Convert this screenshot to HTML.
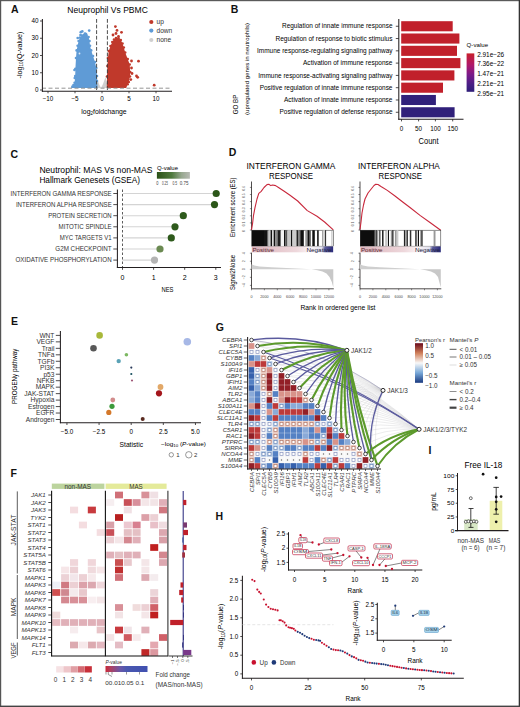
<!DOCTYPE html>
<html><head><meta charset="utf-8"><style>
html,body{margin:0;padding:0;background:#fff;}
body{width:520px;height:707px;overflow:hidden;}
svg{display:block;font-family:"Liberation Sans", sans-serif;}
</style></head><body>
<svg width="520" height="707" viewBox="0 0 520 707">
<rect x="0" y="0" width="520" height="707" fill="#fff"/>
<rect x="0.00" y="0.00" width="520.00" height="1.20" fill="#5a5a5a"/>
<rect x="0.00" y="0.00" width="1.20" height="707.00" fill="#555"/>
<rect x="518.70" y="0.00" width="1.30" height="707.00" fill="#333"/>
<rect x="0.00" y="705.60" width="520.00" height="1.40" fill="#444"/>
<text x="11.00" y="13.40" font-size="10.5" font-weight="bold" fill="#111">A</text>
<text x="67.30" y="13.30" font-size="8.5" textLength="80.50" lengthAdjust="spacingAndGlyphs">Neuprophil Vs PBMC</text>
<path d="M95.50,88.00 L97.00,78.00 L99.00,84.00 L101.00,88.00 L103.00,84.00 L105.50,77.00 L108.00,88.00 Z" fill="#cfcfcf"/>
<path d="M70.80,88.00 L73.50,85.00 L74.60,82.70 L75.20,76.00 L75.40,68.80 L76.00,58.00 L76.60,50.40 L77.60,45.80 L78.60,41.00 L80.00,37.50 L82.00,35.50 L84.00,35.00 L86.50,35.20 L88.60,37.00 L89.50,41.00 L90.00,45.80 L91.20,50.40 L93.00,56.00 L95.00,62.00 L96.30,68.00 L97.00,76.00 L97.00,81.00 L97.70,88.00 Z" fill="#5f9bd6"/>
<circle cx="73.50" cy="85.00" r="1.30" fill="#5f9bd6"/>
<circle cx="74.60" cy="82.70" r="1.30" fill="#5f9bd6"/>
<circle cx="75.20" cy="76.00" r="1.30" fill="#5f9bd6"/>
<circle cx="75.40" cy="68.80" r="1.30" fill="#5f9bd6"/>
<circle cx="76.00" cy="58.00" r="1.30" fill="#5f9bd6"/>
<circle cx="76.60" cy="50.40" r="1.30" fill="#5f9bd6"/>
<circle cx="77.60" cy="45.80" r="1.30" fill="#5f9bd6"/>
<circle cx="78.60" cy="41.00" r="1.30" fill="#5f9bd6"/>
<circle cx="80.00" cy="37.50" r="1.30" fill="#5f9bd6"/>
<circle cx="82.00" cy="35.50" r="1.30" fill="#5f9bd6"/>
<circle cx="84.00" cy="35.00" r="1.30" fill="#5f9bd6"/>
<circle cx="86.50" cy="35.20" r="1.30" fill="#5f9bd6"/>
<circle cx="88.60" cy="37.00" r="1.30" fill="#5f9bd6"/>
<circle cx="89.50" cy="41.00" r="1.30" fill="#5f9bd6"/>
<circle cx="90.00" cy="45.80" r="1.30" fill="#5f9bd6"/>
<circle cx="91.20" cy="50.40" r="1.30" fill="#5f9bd6"/>
<circle cx="93.00" cy="56.00" r="1.30" fill="#5f9bd6"/>
<circle cx="95.00" cy="62.00" r="1.30" fill="#5f9bd6"/>
<circle cx="96.30" cy="68.00" r="1.30" fill="#5f9bd6"/>
<circle cx="97.00" cy="76.00" r="1.30" fill="#5f9bd6"/>
<circle cx="97.00" cy="81.00" r="1.30" fill="#5f9bd6"/>
<circle cx="80.80" cy="32.20" r="1.35" fill="#5f9bd6"/>
<circle cx="82.30" cy="31.40" r="1.35" fill="#5f9bd6"/>
<circle cx="89.20" cy="30.60" r="1.35" fill="#5f9bd6"/>
<circle cx="77.70" cy="38.00" r="1.35" fill="#5f9bd6"/>
<circle cx="84.60" cy="36.50" r="1.35" fill="#5f9bd6"/>
<circle cx="86.00" cy="34.00" r="1.35" fill="#5f9bd6"/>
<circle cx="80.50" cy="35.00" r="1.35" fill="#5f9bd6"/>
<circle cx="74.50" cy="70.00" r="1.35" fill="#5f9bd6"/>
<circle cx="74.80" cy="78.00" r="1.35" fill="#5f9bd6"/>
<circle cx="72.50" cy="86.50" r="1.35" fill="#5f9bd6"/>
<circle cx="85.00" cy="33.50" r="1.35" fill="#5f9bd6"/>
<circle cx="79.50" cy="53.50" r="0.90" fill="#dbe8f6"/>
<path d="M106.80,88.00 L107.00,76.50 L107.40,66.00 L107.90,58.00 L108.80,51.00 L110.50,46.00 L112.30,42.00 L114.00,39.50 L116.00,38.00 L118.50,38.20 L120.80,40.00 L122.50,43.50 L123.80,47.50 L125.20,52.50 L127.70,59.00 L129.70,64.50 L130.20,72.00 L130.00,76.50 L128.80,82.00 L127.70,84.20 L126.20,88.00 Z" fill="#c0392b"/>
<circle cx="107.00" cy="76.50" r="1.30" fill="#c0392b"/>
<circle cx="107.40" cy="66.00" r="1.30" fill="#c0392b"/>
<circle cx="107.90" cy="58.00" r="1.30" fill="#c0392b"/>
<circle cx="108.80" cy="51.00" r="1.30" fill="#c0392b"/>
<circle cx="110.50" cy="46.00" r="1.30" fill="#c0392b"/>
<circle cx="112.30" cy="42.00" r="1.30" fill="#c0392b"/>
<circle cx="114.00" cy="39.50" r="1.30" fill="#c0392b"/>
<circle cx="116.00" cy="38.00" r="1.30" fill="#c0392b"/>
<circle cx="118.50" cy="38.20" r="1.30" fill="#c0392b"/>
<circle cx="120.80" cy="40.00" r="1.30" fill="#c0392b"/>
<circle cx="122.50" cy="43.50" r="1.30" fill="#c0392b"/>
<circle cx="123.80" cy="47.50" r="1.30" fill="#c0392b"/>
<circle cx="125.20" cy="52.50" r="1.30" fill="#c0392b"/>
<circle cx="127.70" cy="59.00" r="1.30" fill="#c0392b"/>
<circle cx="129.70" cy="64.50" r="1.30" fill="#c0392b"/>
<circle cx="130.20" cy="72.00" r="1.30" fill="#c0392b"/>
<circle cx="130.00" cy="76.50" r="1.30" fill="#c0392b"/>
<circle cx="128.80" cy="82.00" r="1.30" fill="#c0392b"/>
<circle cx="127.70" cy="84.20" r="1.30" fill="#c0392b"/>
<circle cx="115.40" cy="26.60" r="1.40" fill="#c0392b"/>
<circle cx="117.00" cy="30.40" r="1.40" fill="#c0392b"/>
<circle cx="121.50" cy="32.30" r="1.40" fill="#c0392b"/>
<circle cx="113.00" cy="35.00" r="1.40" fill="#c0392b"/>
<circle cx="118.50" cy="36.50" r="1.40" fill="#c0392b"/>
<circle cx="131.50" cy="61.00" r="1.40" fill="#c0392b"/>
<circle cx="132.00" cy="73.50" r="1.40" fill="#c0392b"/>
<circle cx="138.50" cy="61.20" r="1.40" fill="#c0392b"/>
<circle cx="137.70" cy="77.30" r="1.40" fill="#c0392b"/>
<circle cx="136.50" cy="76.00" r="1.40" fill="#c0392b"/>
<circle cx="130.80" cy="79.60" r="1.40" fill="#c0392b"/>
<circle cx="154.20" cy="85.20" r="1.40" fill="#c0392b"/>
<circle cx="116.00" cy="33.50" r="1.40" fill="#c0392b"/>
<circle cx="131.50" cy="68.00" r="1.40" fill="#c0392b"/>
<line x1="96.60" y1="19.00" x2="96.60" y2="91.00" stroke="#3a3a3a" stroke-width="0.9" stroke-dasharray="3.8,1.8"/>
<line x1="107.40" y1="19.00" x2="107.40" y2="91.00" stroke="#3a3a3a" stroke-width="0.9" stroke-dasharray="3.8,1.8"/>
<line x1="42.00" y1="88.20" x2="172.00" y2="88.20" stroke="#8a8a8a" stroke-width="0.9" stroke-dasharray="4,2.5"/>
<line x1="42.40" y1="19.00" x2="42.40" y2="91.80" stroke="#231f20" stroke-width="1.05"/>
<line x1="41.90" y1="91.30" x2="172.00" y2="91.30" stroke="#231f20" stroke-width="1.05"/>
<line x1="40.00" y1="90.00" x2="42.00" y2="90.00" stroke="#231f20" stroke-width="0.8"/>
<text x="38.60" y="92.20" font-size="6.3" text-anchor="end">0</text>
<line x1="40.00" y1="72.75" x2="42.00" y2="72.75" stroke="#231f20" stroke-width="0.8"/>
<text x="38.60" y="74.95" font-size="6.3" text-anchor="end">10</text>
<line x1="40.00" y1="55.50" x2="42.00" y2="55.50" stroke="#231f20" stroke-width="0.8"/>
<text x="38.60" y="57.70" font-size="6.3" text-anchor="end">20</text>
<line x1="40.00" y1="38.25" x2="42.00" y2="38.25" stroke="#231f20" stroke-width="0.8"/>
<text x="38.60" y="40.45" font-size="6.3" text-anchor="end">30</text>
<line x1="40.00" y1="21.00" x2="42.00" y2="21.00" stroke="#231f20" stroke-width="0.8"/>
<text x="38.60" y="23.20" font-size="6.3" text-anchor="end">40</text>
<line x1="48.00" y1="91.30" x2="48.00" y2="93.30" stroke="#231f20" stroke-width="0.8"/>
<text x="48.00" y="101.30" font-size="6.3" text-anchor="middle">−10</text>
<line x1="75.00" y1="91.30" x2="75.00" y2="93.30" stroke="#231f20" stroke-width="0.8"/>
<text x="75.00" y="101.30" font-size="6.3" text-anchor="middle">−5</text>
<line x1="102.00" y1="91.30" x2="102.00" y2="93.30" stroke="#231f20" stroke-width="0.8"/>
<text x="102.00" y="101.30" font-size="6.3" text-anchor="middle">0</text>
<line x1="129.00" y1="91.30" x2="129.00" y2="93.30" stroke="#231f20" stroke-width="0.8"/>
<text x="129.00" y="101.30" font-size="6.3" text-anchor="middle">5</text>
<line x1="156.00" y1="91.30" x2="156.00" y2="93.30" stroke="#231f20" stroke-width="0.8"/>
<text x="156.00" y="101.30" font-size="6.3" text-anchor="middle">10</text>
<text x="21.60" y="78.50" font-size="7" textLength="47.00" lengthAdjust="spacingAndGlyphs" transform="rotate(-90 21.60 78.50)">-log<tspan font-size="4.5" dy="1.2">10</tspan><tspan dy="-1.2">(Q-value)</tspan></text>
<text x="81.30" y="113.50" font-size="7.6" textLength="45.30" lengthAdjust="spacingAndGlyphs">log<tspan font-size="5" dy="1.4">2</tspan><tspan dy="-1.4">foldchange</tspan></text>
<circle cx="151.30" cy="22.00" r="2.10" fill="#c0392b"/>
<text x="156.50" y="24.30" font-size="6.6" fill="#333">up</text>
<circle cx="151.30" cy="30.60" r="2.10" fill="#5f9bd6"/>
<text x="156.50" y="32.90" font-size="6.6" fill="#333">down</text>
<circle cx="151.30" cy="40.00" r="2.10" fill="#cfcfcf"/>
<text x="156.50" y="42.30" font-size="6.6" fill="#333">none</text>
<text x="230.70" y="13.40" font-size="10.5" font-weight="bold" fill="#111">B</text>
<text x="392.50" y="28.45" font-size="6.3" text-anchor="end" textLength="110.50" lengthAdjust="spacingAndGlyphs">Regulation of innate immune response</text>
<line x1="395.80" y1="26.25" x2="398.80" y2="26.25" stroke="#231f20" stroke-width="0.8"/>
<rect x="401.20" y="21.20" width="51.50" height="10.10" fill="#c1202b"/>
<text x="392.50" y="40.74" font-size="6.3" text-anchor="end" textLength="117.00" lengthAdjust="spacingAndGlyphs">Regulation of response to biotic stimulus</text>
<line x1="395.80" y1="38.54" x2="398.80" y2="38.54" stroke="#231f20" stroke-width="0.8"/>
<rect x="401.20" y="33.49" width="58.20" height="10.10" fill="#c1202b"/>
<text x="392.50" y="53.03" font-size="6.3" text-anchor="end" textLength="135.50" lengthAdjust="spacingAndGlyphs">Immune response-regulating signaling pathway</text>
<line x1="395.80" y1="50.83" x2="398.80" y2="50.83" stroke="#231f20" stroke-width="0.8"/>
<rect x="401.20" y="45.78" width="55.80" height="10.10" fill="#c1202b"/>
<text x="392.50" y="65.32" font-size="6.3" text-anchor="end" textLength="89.50" lengthAdjust="spacingAndGlyphs">Activation of immune response</text>
<line x1="395.80" y1="63.12" x2="398.80" y2="63.12" stroke="#231f20" stroke-width="0.8"/>
<rect x="401.20" y="58.07" width="59.20" height="10.10" fill="#c1202b"/>
<text x="392.50" y="77.61" font-size="6.3" text-anchor="end" textLength="134.20" lengthAdjust="spacingAndGlyphs">Immune response-activating signaling pathway</text>
<line x1="395.80" y1="75.41" x2="398.80" y2="75.41" stroke="#231f20" stroke-width="0.8"/>
<rect x="401.20" y="70.36" width="53.20" height="10.10" fill="#c1202b"/>
<text x="392.50" y="89.90" font-size="6.3" text-anchor="end" textLength="132.80" lengthAdjust="spacingAndGlyphs">Positive regulation of innate immune response</text>
<line x1="395.80" y1="87.70" x2="398.80" y2="87.70" stroke="#231f20" stroke-width="0.8"/>
<rect x="401.20" y="82.65" width="41.80" height="10.10" fill="#c1202b"/>
<text x="392.50" y="102.19" font-size="6.3" text-anchor="end" textLength="108.50" lengthAdjust="spacingAndGlyphs">Activation of innate immune response</text>
<line x1="395.80" y1="99.99" x2="398.80" y2="99.99" stroke="#231f20" stroke-width="0.8"/>
<rect x="401.20" y="94.94" width="34.70" height="10.10" fill="#30207a"/>
<text x="392.50" y="114.48" font-size="6.3" text-anchor="end" textLength="113.00" lengthAdjust="spacingAndGlyphs">Positive regulation of defense response</text>
<line x1="395.80" y1="112.28" x2="398.80" y2="112.28" stroke="#231f20" stroke-width="0.8"/>
<rect x="401.20" y="107.23" width="53.40" height="10.10" fill="#30207a"/>
<line x1="398.80" y1="19.00" x2="398.80" y2="119.70" stroke="#231f20" stroke-width="1.05"/>
<line x1="398.30" y1="119.20" x2="463.50" y2="119.20" stroke="#231f20" stroke-width="1.05"/>
<line x1="401.50" y1="119.20" x2="401.50" y2="121.40" stroke="#231f20" stroke-width="0.8"/>
<text x="401.50" y="130.60" font-size="6.3" text-anchor="middle">0</text>
<line x1="418.60" y1="119.20" x2="418.60" y2="121.40" stroke="#231f20" stroke-width="0.8"/>
<text x="418.60" y="130.60" font-size="6.3" text-anchor="middle">50</text>
<line x1="435.40" y1="119.20" x2="435.40" y2="121.40" stroke="#231f20" stroke-width="0.8"/>
<text x="435.40" y="130.60" font-size="6.3" text-anchor="middle">100</text>
<line x1="452.70" y1="119.20" x2="452.70" y2="121.40" stroke="#231f20" stroke-width="0.8"/>
<text x="452.70" y="130.60" font-size="6.3" text-anchor="middle">150</text>
<text x="428.60" y="143.60" font-size="8.2" text-anchor="middle" textLength="20.00" lengthAdjust="spacingAndGlyphs">Count</text>
<text x="238.20" y="114.20" font-size="8" textLength="19.50" lengthAdjust="spacingAndGlyphs" transform="rotate(-90 238.20 114.20)">GO BP</text>
<text x="249.00" y="115.00" font-size="5.6" textLength="92.00" lengthAdjust="spacingAndGlyphs" transform="rotate(-90 249.00 115.00)">(upregulated genes in neutrophils)</text>
<text x="466.60" y="46.80" font-size="6.2" textLength="21.50" lengthAdjust="spacingAndGlyphs">Q-value</text>
<defs><linearGradient id="gq" x1="0" y1="0" x2="0" y2="1"><stop offset="0" stop-color="#c8202a"/><stop offset="0.3" stop-color="#b0186a"/><stop offset="0.55" stop-color="#7a1a8a"/><stop offset="0.8" stop-color="#4a1e86"/><stop offset="1" stop-color="#2e1e78"/></linearGradient></defs>
<rect x="466.60" y="53.40" width="7.70" height="38.40" fill="url(#gq)"/>
<text x="477.20" y="56.80" font-size="6.3" textLength="27.00" lengthAdjust="spacingAndGlyphs">2.91e−26</text>
<text x="477.20" y="66.40" font-size="6.3" textLength="27.00" lengthAdjust="spacingAndGlyphs">7.36e−22</text>
<text x="477.20" y="76.00" font-size="6.3" textLength="27.00" lengthAdjust="spacingAndGlyphs">1.47e−21</text>
<text x="477.20" y="86.00" font-size="6.3" textLength="27.00" lengthAdjust="spacingAndGlyphs">2.21e−21</text>
<text x="477.20" y="95.80" font-size="6.3" textLength="27.00" lengthAdjust="spacingAndGlyphs">2.95e−21</text>
<text x="10.60" y="158.20" font-size="10.5" font-weight="bold" fill="#111">C</text>
<text x="39.40" y="172.80" font-size="8.5" textLength="113.00" lengthAdjust="spacingAndGlyphs">Neutrophil: MAS Vs non-MAS</text>
<text x="39.40" y="183.30" font-size="8.3" textLength="100.60" lengthAdjust="spacingAndGlyphs">Hallmark Genesets (GSEA)</text>
<text x="157.00" y="169.60" font-size="5.4" textLength="21.00" lengthAdjust="spacingAndGlyphs">Q-value</text>
<defs><linearGradient id="gc" x1="0" y1="0" x2="1" y2="0"><stop offset="0" stop-color="#2b5218"/><stop offset="0.45" stop-color="#4f7a3e"/><stop offset="0.75" stop-color="#98a890"/><stop offset="1" stop-color="#b8bab4"/></linearGradient></defs>
<rect x="156.90" y="172.00" width="33.00" height="6.70" fill="url(#gc)"/>
<text x="156.30" y="184.60" font-size="4.5" fill="#444" textLength="2.20" lengthAdjust="spacingAndGlyphs">0</text>
<text x="162.00" y="184.60" font-size="4.5" fill="#444" textLength="5.80" lengthAdjust="spacingAndGlyphs">0.25</text>
<text x="172.40" y="184.60" font-size="4.5" fill="#444" textLength="4.60" lengthAdjust="spacingAndGlyphs">0.5</text>
<text x="179.80" y="184.60" font-size="4.5" fill="#444" textLength="8.80" lengthAdjust="spacingAndGlyphs">0.75</text>
<text x="111.70" y="195.80" font-size="6.5" text-anchor="end" fill="#333" textLength="101.10" lengthAdjust="spacingAndGlyphs">INTERFERON GAMMA RESPONSE</text>
<line x1="113.30" y1="193.50" x2="117.50" y2="193.50" stroke="#231f20" stroke-width="0.8"/>
<line x1="122.50" y1="193.50" x2="216.20" y2="193.50" stroke="#d4d4d4" stroke-width="1.1"/>
<circle cx="216.20" cy="193.50" r="3.60" fill="#2b5618"/>
<text x="111.70" y="206.90" font-size="6.5" text-anchor="end" fill="#333" textLength="95.80" lengthAdjust="spacingAndGlyphs">INTERFERON ALPHA RESPONSE</text>
<line x1="113.30" y1="204.60" x2="117.50" y2="204.60" stroke="#231f20" stroke-width="0.8"/>
<line x1="122.50" y1="204.60" x2="214.50" y2="204.60" stroke="#d4d4d4" stroke-width="1.1"/>
<circle cx="214.50" cy="204.60" r="3.60" fill="#2b5618"/>
<text x="111.70" y="218.00" font-size="6.5" text-anchor="end" fill="#333" textLength="63.50" lengthAdjust="spacingAndGlyphs">PROTEIN SECRETION</text>
<line x1="113.30" y1="215.70" x2="117.50" y2="215.70" stroke="#231f20" stroke-width="0.8"/>
<line x1="122.50" y1="215.70" x2="183.30" y2="215.70" stroke="#d4d4d4" stroke-width="1.1"/>
<circle cx="183.30" cy="215.70" r="3.60" fill="#2e5a1c"/>
<text x="111.70" y="229.10" font-size="6.5" text-anchor="end" fill="#333" textLength="53.10" lengthAdjust="spacingAndGlyphs">MITOTIC SPINDLE</text>
<line x1="113.30" y1="226.80" x2="117.50" y2="226.80" stroke="#231f20" stroke-width="0.8"/>
<line x1="122.50" y1="226.80" x2="175.00" y2="226.80" stroke="#d4d4d4" stroke-width="1.1"/>
<circle cx="175.00" cy="226.80" r="3.60" fill="#2e5a1c"/>
<text x="111.70" y="240.20" font-size="6.5" text-anchor="end" fill="#333" textLength="52.00" lengthAdjust="spacingAndGlyphs">MYC TARGETS V1</text>
<line x1="113.30" y1="237.90" x2="117.50" y2="237.90" stroke="#231f20" stroke-width="0.8"/>
<line x1="122.50" y1="237.90" x2="171.30" y2="237.90" stroke="#d4d4d4" stroke-width="1.1"/>
<circle cx="171.30" cy="237.90" r="3.60" fill="#2e5a1c"/>
<text x="111.70" y="251.30" font-size="6.5" text-anchor="end" fill="#333" textLength="56.40" lengthAdjust="spacingAndGlyphs">G2M CHECKPOINT</text>
<line x1="113.30" y1="249.00" x2="117.50" y2="249.00" stroke="#231f20" stroke-width="0.8"/>
<line x1="122.50" y1="249.00" x2="160.00" y2="249.00" stroke="#d4d4d4" stroke-width="1.1"/>
<circle cx="160.00" cy="249.00" r="3.60" fill="#6b8a52"/>
<text x="111.70" y="262.40" font-size="6.5" text-anchor="end" fill="#333" textLength="96.20" lengthAdjust="spacingAndGlyphs">OXIDATIVE PHOSPHORYLATION</text>
<line x1="113.30" y1="260.10" x2="117.50" y2="260.10" stroke="#231f20" stroke-width="0.8"/>
<line x1="122.50" y1="260.10" x2="154.50" y2="260.10" stroke="#d4d4d4" stroke-width="1.1"/>
<circle cx="154.50" cy="260.10" r="3.60" fill="#b4b4b4"/>
<line x1="122.50" y1="189.50" x2="122.50" y2="268.00" stroke="#333" stroke-width="0.8" stroke-dasharray="2.5,2"/>
<line x1="117.40" y1="189.50" x2="117.40" y2="267.90" stroke="#231f20" stroke-width="1.05"/>
<line x1="116.90" y1="267.40" x2="221.00" y2="267.40" stroke="#231f20" stroke-width="1.05"/>
<line x1="122.50" y1="267.40" x2="122.50" y2="269.80" stroke="#231f20" stroke-width="0.8"/>
<text x="122.50" y="280.20" font-size="7" text-anchor="middle">0</text>
<line x1="153.60" y1="267.40" x2="153.60" y2="269.80" stroke="#231f20" stroke-width="0.8"/>
<text x="153.60" y="280.20" font-size="7" text-anchor="middle">1</text>
<line x1="184.70" y1="267.40" x2="184.70" y2="269.80" stroke="#231f20" stroke-width="0.8"/>
<text x="184.70" y="280.20" font-size="7" text-anchor="middle">2</text>
<line x1="215.80" y1="267.40" x2="215.80" y2="269.80" stroke="#231f20" stroke-width="0.8"/>
<text x="215.80" y="280.20" font-size="7" text-anchor="middle">3</text>
<text x="167.50" y="291.50" font-size="6.8" text-anchor="middle" textLength="12.00" lengthAdjust="spacingAndGlyphs">NES</text>
<text x="228.80" y="155.60" font-size="10.5" font-weight="bold" fill="#111">D</text>
<defs><linearGradient id="gpn" x1="0" y1="0" x2="1" y2="0"><stop offset="0" stop-color="#dcb4bc"/><stop offset="0.55" stop-color="#eed8dc"/><stop offset="0.72" stop-color="#fbf4f5"/><stop offset="0.86" stop-color="#e0e0ee"/><stop offset="0.9" stop-color="#5a5a9a"/><stop offset="1" stop-color="#2a2a78"/></linearGradient></defs>
<text x="246.50" y="169.30" font-size="8.6" textLength="88.90" lengthAdjust="spacingAndGlyphs">INTERFERON GAMMA</text>
<text x="291.00" y="178.90" font-size="8.6" text-anchor="middle" textLength="44.00" lengthAdjust="spacingAndGlyphs">RESPONSE</text>
<text x="358.00" y="169.10" font-size="8.6" textLength="81.80" lengthAdjust="spacingAndGlyphs">INTERFERON ALPHA</text>
<text x="400.30" y="178.70" font-size="8.6" text-anchor="middle" textLength="43.40" lengthAdjust="spacingAndGlyphs">RESPONSE</text>
<line x1="251.50" y1="181.50" x2="251.50" y2="230.40" stroke="#231f20" stroke-width="0.8"/>
<line x1="249.90" y1="230.00" x2="251.50" y2="230.00" stroke="#231f20" stroke-width="0.5"/>
<text x="245.20" y="231.10" font-size="3.4" text-anchor="middle" fill="#555" transform="rotate(-90 245.20 231.10)">0</text>
<line x1="249.90" y1="222.90" x2="251.50" y2="222.90" stroke="#231f20" stroke-width="0.5"/>
<text x="245.20" y="224.00" font-size="3.4" text-anchor="middle" fill="#555" transform="rotate(-90 245.20 224.00)">0.1</text>
<line x1="249.90" y1="215.80" x2="251.50" y2="215.80" stroke="#231f20" stroke-width="0.5"/>
<text x="245.20" y="216.90" font-size="3.4" text-anchor="middle" fill="#555" transform="rotate(-90 245.20 216.90)">0.2</text>
<line x1="249.90" y1="208.70" x2="251.50" y2="208.70" stroke="#231f20" stroke-width="0.5"/>
<text x="245.20" y="209.80" font-size="3.4" text-anchor="middle" fill="#555" transform="rotate(-90 245.20 209.80)">0.3</text>
<line x1="249.90" y1="201.60" x2="251.50" y2="201.60" stroke="#231f20" stroke-width="0.5"/>
<text x="245.20" y="202.70" font-size="3.4" text-anchor="middle" fill="#555" transform="rotate(-90 245.20 202.70)">0.4</text>
<line x1="249.90" y1="194.50" x2="251.50" y2="194.50" stroke="#231f20" stroke-width="0.5"/>
<text x="245.20" y="195.60" font-size="3.4" text-anchor="middle" fill="#555" transform="rotate(-90 245.20 195.60)">0.5</text>
<line x1="249.90" y1="187.40" x2="251.50" y2="187.40" stroke="#231f20" stroke-width="0.5"/>
<text x="245.20" y="188.50" font-size="3.4" text-anchor="middle" fill="#555" transform="rotate(-90 245.20 188.50)">0.6</text>
<path d="M251.50,229.80 L252.50,224.00 L253.50,215.40 L255.00,207.70 L257.00,199.00 L258.80,193.30 L261.20,191.30 L264.00,187.50 L267.00,184.60 L268.80,184.20 L270.80,185.60 L272.70,185.00 L275.60,185.60 L278.50,187.50 L284.20,191.30 L290.00,195.20 L297.70,201.00 L307.30,210.60 L317.00,216.30 L324.60,222.00 L333.30,229.80" fill="none" stroke="#c8283c" stroke-width="1.1" stroke-linejoin="round"/>
<rect x="251.80" y="230.20" width="81.50" height="16.00" fill="#fff" stroke="#222" stroke-width="0.5"/>
<rect x="251.80" y="230.20" width="12.20" height="16.00" fill="#0d0d0d"/>
<rect x="264.00" y="230.20" width="3.50" height="16.00" fill="#141414"/>
<rect x="267.50" y="230.20" width="1.00" height="16.00" fill="#444"/>
<rect x="268.50" y="230.20" width="2.10" height="16.00" fill="#c8c8c8"/>
<rect x="270.60" y="230.20" width="1.40" height="16.00" fill="#111"/>
<rect x="272.00" y="230.20" width="1.70" height="16.00" fill="#d8d8d8"/>
<rect x="273.70" y="230.20" width="1.70" height="16.00" fill="#111"/>
<rect x="275.40" y="230.20" width="2.10" height="16.00" fill="#888"/>
<rect x="277.50" y="230.20" width="3.00" height="16.00" fill="#222"/>
<rect x="280.50" y="230.20" width="0.50" height="16.00" fill="#555"/>
<rect x="281.00" y="230.20" width="3.00" height="16.00" fill="#f4f4f4"/>
<rect x="284.00" y="230.20" width="1.50" height="16.00" fill="#111"/>
<rect x="285.50" y="230.20" width="2.00" height="16.00" fill="#555"/>
<rect x="287.50" y="230.20" width="3.50" height="16.00" fill="#c8c8c8"/>
<rect x="291.00" y="230.20" width="1.40" height="16.00" fill="#111"/>
<rect x="292.40" y="230.20" width="4.10" height="16.00" fill="#ccc"/>
<rect x="296.50" y="230.20" width="1.50" height="16.00" fill="#222"/>
<rect x="298.00" y="230.20" width="1.50" height="16.00" fill="#888"/>
<rect x="299.50" y="230.20" width="1.50" height="16.00" fill="#444"/>
<rect x="301.00" y="230.20" width="2.80" height="16.00" fill="#111"/>
<rect x="305.30" y="230.20" width="2.20" height="16.00" fill="#999"/>
<rect x="307.50" y="230.20" width="1.50" height="16.00" fill="#111"/>
<rect x="309.00" y="230.20" width="1.80" height="16.00" fill="#555"/>
<rect x="312.30" y="230.20" width="2.50" height="16.00" fill="#111"/>
<rect x="317.00" y="230.20" width="1.80" height="16.00" fill="#333"/>
<rect x="322.10" y="230.20" width="1.10" height="16.00" fill="#999"/>
<rect x="323.20" y="230.20" width="1.80" height="16.00" fill="#ccc"/>
<rect x="325.00" y="230.20" width="1.10" height="16.00" fill="#333"/>
<rect x="331.60" y="230.20" width="0.70" height="16.00" fill="#999"/>
<rect x="251.80" y="246.5" width="81.50" height="5.8" fill="url(#gpn)"/>
<text x="252.50" y="251.60" font-size="5.8" fill="#5a2830" textLength="21.50" lengthAdjust="spacingAndGlyphs">Positive</text>
<text x="306.50" y="251.60" font-size="5.8" fill="#202040" textLength="25.00" lengthAdjust="spacingAndGlyphs">Negative</text>
<rect x="333.50" y="246.00" width="3.00" height="7.00" fill="#fff"/>
<line x1="251.50" y1="252.70" x2="251.50" y2="288.80" stroke="#231f20" stroke-width="0.8"/>
<line x1="249.90" y1="253.20" x2="251.50" y2="253.20" stroke="#231f20" stroke-width="0.5"/>
<text x="245.00" y="253.20" font-size="3.6" text-anchor="middle" fill="#444" transform="rotate(-90 245.00 253.20)">4</text>
<line x1="249.90" y1="261.25" x2="251.50" y2="261.25" stroke="#231f20" stroke-width="0.5"/>
<text x="245.00" y="261.25" font-size="3.6" text-anchor="middle" fill="#444" transform="rotate(-90 245.00 261.25)">2</text>
<line x1="249.90" y1="269.30" x2="251.50" y2="269.30" stroke="#231f20" stroke-width="0.5"/>
<text x="245.00" y="269.30" font-size="3.6" text-anchor="middle" fill="#444" transform="rotate(-90 245.00 269.30)">0</text>
<line x1="249.90" y1="277.35" x2="251.50" y2="277.35" stroke="#231f20" stroke-width="0.5"/>
<text x="245.00" y="277.35" font-size="3.6" text-anchor="middle" fill="#444" transform="rotate(-90 245.00 277.35)">−2</text>
<line x1="249.90" y1="285.40" x2="251.50" y2="285.40" stroke="#231f20" stroke-width="0.5"/>
<text x="245.00" y="285.40" font-size="3.6" text-anchor="middle" fill="#444" transform="rotate(-90 245.00 285.40)">−4</text>
<path d="M251.50,264.30 L254.50,265.60 L259.50,266.40 L271.50,267.30 L291.50,268.20 L306.50,268.90 L311.50,269.20 L311.50,269.20 L251.50,269.20 Z" fill="#cfcfcf"/>
<path d="M311.50,269.20 L317.50,270.20 L322.50,271.50 L326.50,273.50 L329.50,277.00 L331.80,282.00 L333.30,287.50 L333.30,269.20 Z" fill="#c8c8c8"/>
<line x1="251.50" y1="288.80" x2="333.80" y2="288.80" stroke="#231f20" stroke-width="0.8"/>
<line x1="251.50" y1="288.80" x2="251.50" y2="290.30" stroke="#231f20" stroke-width="0.5"/>
<text x="251.50" y="298.30" font-size="3.7" text-anchor="middle" fill="#444">0</text>
<line x1="264.40" y1="288.80" x2="264.40" y2="290.30" stroke="#231f20" stroke-width="0.5"/>
<text x="264.40" y="298.30" font-size="3.7" text-anchor="middle" fill="#444">2000</text>
<line x1="277.30" y1="288.80" x2="277.30" y2="290.30" stroke="#231f20" stroke-width="0.5"/>
<text x="277.30" y="298.30" font-size="3.7" text-anchor="middle" fill="#444">4000</text>
<line x1="290.20" y1="288.80" x2="290.20" y2="290.30" stroke="#231f20" stroke-width="0.5"/>
<text x="290.20" y="298.30" font-size="3.7" text-anchor="middle" fill="#444">6000</text>
<line x1="303.10" y1="288.80" x2="303.10" y2="290.30" stroke="#231f20" stroke-width="0.5"/>
<text x="303.10" y="298.30" font-size="3.7" text-anchor="middle" fill="#444">8000</text>
<line x1="316.00" y1="288.80" x2="316.00" y2="290.30" stroke="#231f20" stroke-width="0.5"/>
<text x="316.00" y="298.30" font-size="3.7" text-anchor="middle" fill="#444">10000</text>
<line x1="328.90" y1="288.80" x2="328.90" y2="290.30" stroke="#231f20" stroke-width="0.5"/>
<text x="328.90" y="298.30" font-size="3.7" text-anchor="middle" fill="#444">12000</text>
<line x1="360.00" y1="181.50" x2="360.00" y2="230.40" stroke="#231f20" stroke-width="0.8"/>
<line x1="358.40" y1="230.00" x2="360.00" y2="230.00" stroke="#231f20" stroke-width="0.5"/>
<text x="353.70" y="231.10" font-size="3.4" text-anchor="middle" fill="#555" transform="rotate(-90 353.70 231.10)">0</text>
<line x1="358.40" y1="222.90" x2="360.00" y2="222.90" stroke="#231f20" stroke-width="0.5"/>
<text x="353.70" y="224.00" font-size="3.4" text-anchor="middle" fill="#555" transform="rotate(-90 353.70 224.00)">0.1</text>
<line x1="358.40" y1="215.80" x2="360.00" y2="215.80" stroke="#231f20" stroke-width="0.5"/>
<text x="353.70" y="216.90" font-size="3.4" text-anchor="middle" fill="#555" transform="rotate(-90 353.70 216.90)">0.2</text>
<line x1="358.40" y1="208.70" x2="360.00" y2="208.70" stroke="#231f20" stroke-width="0.5"/>
<text x="353.70" y="209.80" font-size="3.4" text-anchor="middle" fill="#555" transform="rotate(-90 353.70 209.80)">0.3</text>
<line x1="358.40" y1="201.60" x2="360.00" y2="201.60" stroke="#231f20" stroke-width="0.5"/>
<text x="353.70" y="202.70" font-size="3.4" text-anchor="middle" fill="#555" transform="rotate(-90 353.70 202.70)">0.4</text>
<line x1="358.40" y1="194.50" x2="360.00" y2="194.50" stroke="#231f20" stroke-width="0.5"/>
<text x="353.70" y="195.60" font-size="3.4" text-anchor="middle" fill="#555" transform="rotate(-90 353.70 195.60)">0.5</text>
<line x1="358.40" y1="187.40" x2="360.00" y2="187.40" stroke="#231f20" stroke-width="0.5"/>
<text x="353.70" y="188.50" font-size="3.4" text-anchor="middle" fill="#555" transform="rotate(-90 353.70 188.50)">0.6</text>
<path d="M360.00,229.50 L361.00,222.00 L362.00,213.00 L363.50,205.00 L365.00,199.00 L366.50,196.00 L368.00,193.00 L370.00,190.50 L372.00,188.00 L374.00,185.50 L375.80,184.20 L378.00,184.50 L381.00,186.50 L387.30,190.40 L395.00,196.00 L402.70,202.00 L410.00,207.50 L420.00,215.40 L430.00,222.50 L440.70,230.30" fill="none" stroke="#c8283c" stroke-width="1.1" stroke-linejoin="round"/>
<rect x="360.30" y="230.20" width="80.50" height="16.00" fill="#fff" stroke="#222" stroke-width="0.5"/>
<rect x="360.20" y="230.20" width="14.60" height="16.00" fill="#0d0d0d"/>
<rect x="374.80" y="230.20" width="1.10" height="16.00" fill="#777"/>
<rect x="375.90" y="230.20" width="1.00" height="16.00" fill="#222"/>
<rect x="376.90" y="230.20" width="1.40" height="16.00" fill="#999"/>
<rect x="379.30" y="230.20" width="1.10" height="16.00" fill="#222"/>
<rect x="382.10" y="230.20" width="1.40" height="16.00" fill="#111"/>
<rect x="385.60" y="230.20" width="1.00" height="16.00" fill="#888"/>
<rect x="386.60" y="230.20" width="1.40" height="16.00" fill="#ddd"/>
<rect x="388.00" y="230.20" width="1.00" height="16.00" fill="#111"/>
<rect x="390.80" y="230.20" width="1.40" height="16.00" fill="#999"/>
<rect x="392.20" y="230.20" width="1.30" height="16.00" fill="#222"/>
<rect x="394.90" y="230.20" width="1.80" height="16.00" fill="#999"/>
<rect x="396.70" y="230.20" width="1.70" height="16.00" fill="#ccc"/>
<rect x="403.90" y="230.20" width="1.30" height="16.00" fill="#222"/>
<rect x="405.20" y="230.20" width="1.50" height="16.00" fill="#999"/>
<rect x="406.70" y="230.20" width="1.10" height="16.00" fill="#111"/>
<rect x="409.80" y="230.20" width="1.50" height="16.00" fill="#333"/>
<rect x="415.20" y="230.20" width="1.50" height="16.00" fill="#333"/>
<rect x="417.80" y="230.20" width="1.20" height="16.00" fill="#111"/>
<rect x="420.50" y="230.20" width="2.30" height="16.00" fill="#555"/>
<rect x="433.60" y="230.20" width="1.90" height="16.00" fill="#999"/>
<rect x="360.30" y="246.5" width="80.50" height="5.8" fill="url(#gpn)"/>
<text x="361.00" y="251.60" font-size="5.8" fill="#5a2830" textLength="21.50" lengthAdjust="spacingAndGlyphs">Positive</text>
<text x="415.00" y="251.60" font-size="5.8" fill="#202040" textLength="25.00" lengthAdjust="spacingAndGlyphs">Negative</text>
<rect x="441.00" y="246.00" width="3.00" height="7.00" fill="#fff"/>
<line x1="360.00" y1="252.70" x2="360.00" y2="288.80" stroke="#231f20" stroke-width="0.8"/>
<line x1="358.40" y1="253.20" x2="360.00" y2="253.20" stroke="#231f20" stroke-width="0.5"/>
<text x="353.50" y="253.20" font-size="3.6" text-anchor="middle" fill="#444" transform="rotate(-90 353.50 253.20)">4</text>
<line x1="358.40" y1="261.25" x2="360.00" y2="261.25" stroke="#231f20" stroke-width="0.5"/>
<text x="353.50" y="261.25" font-size="3.6" text-anchor="middle" fill="#444" transform="rotate(-90 353.50 261.25)">2</text>
<line x1="358.40" y1="269.30" x2="360.00" y2="269.30" stroke="#231f20" stroke-width="0.5"/>
<text x="353.50" y="269.30" font-size="3.6" text-anchor="middle" fill="#444" transform="rotate(-90 353.50 269.30)">0</text>
<line x1="358.40" y1="277.35" x2="360.00" y2="277.35" stroke="#231f20" stroke-width="0.5"/>
<text x="353.50" y="277.35" font-size="3.6" text-anchor="middle" fill="#444" transform="rotate(-90 353.50 277.35)">−2</text>
<line x1="358.40" y1="285.40" x2="360.00" y2="285.40" stroke="#231f20" stroke-width="0.5"/>
<text x="353.50" y="285.40" font-size="3.6" text-anchor="middle" fill="#444" transform="rotate(-90 353.50 285.40)">−4</text>
<path d="M360.00,264.30 L363.00,265.60 L368.00,266.40 L380.00,267.30 L400.00,268.20 L415.00,268.90 L420.00,269.20 L420.00,269.20 L360.00,269.20 Z" fill="#cfcfcf"/>
<path d="M420.00,269.20 L426.00,270.20 L431.00,271.50 L435.00,273.50 L438.00,277.00 L439.30,282.00 L440.80,287.50 L440.80,269.20 Z" fill="#c8c8c8"/>
<line x1="360.00" y1="288.80" x2="441.30" y2="288.80" stroke="#231f20" stroke-width="0.8"/>
<line x1="360.00" y1="288.80" x2="360.00" y2="290.30" stroke="#231f20" stroke-width="0.5"/>
<text x="360.00" y="298.30" font-size="3.7" text-anchor="middle" fill="#444">0</text>
<line x1="372.90" y1="288.80" x2="372.90" y2="290.30" stroke="#231f20" stroke-width="0.5"/>
<text x="372.90" y="298.30" font-size="3.7" text-anchor="middle" fill="#444">2000</text>
<line x1="385.80" y1="288.80" x2="385.80" y2="290.30" stroke="#231f20" stroke-width="0.5"/>
<text x="385.80" y="298.30" font-size="3.7" text-anchor="middle" fill="#444">4000</text>
<line x1="398.70" y1="288.80" x2="398.70" y2="290.30" stroke="#231f20" stroke-width="0.5"/>
<text x="398.70" y="298.30" font-size="3.7" text-anchor="middle" fill="#444">6000</text>
<line x1="411.60" y1="288.80" x2="411.60" y2="290.30" stroke="#231f20" stroke-width="0.5"/>
<text x="411.60" y="298.30" font-size="3.7" text-anchor="middle" fill="#444">8000</text>
<line x1="424.50" y1="288.80" x2="424.50" y2="290.30" stroke="#231f20" stroke-width="0.5"/>
<text x="424.50" y="298.30" font-size="3.7" text-anchor="middle" fill="#444">10000</text>
<line x1="437.40" y1="288.80" x2="437.40" y2="290.30" stroke="#231f20" stroke-width="0.5"/>
<text x="437.40" y="298.30" font-size="3.7" text-anchor="middle" fill="#444">12000</text>
<text x="235.20" y="237.00" font-size="6.6" textLength="59.50" lengthAdjust="spacingAndGlyphs" transform="rotate(-90 235.20 237.00)">Enrichment score (ES)</text>
<text x="235.20" y="290.00" font-size="6.6" textLength="35.00" lengthAdjust="spacingAndGlyphs" transform="rotate(-90 235.20 290.00)">Signal2Noise</text>
<text x="300.40" y="309.60" font-size="7" textLength="75.00" lengthAdjust="spacingAndGlyphs">Rank in ordered gene list</text>
<text x="11.00" y="324.60" font-size="10.5" font-weight="bold" fill="#111">E</text>
<text x="54.40" y="337.70" font-size="6.6" text-anchor="end" fill="#333">WNT</text>
<line x1="55.80" y1="335.40" x2="60.20" y2="335.40" stroke="#231f20" stroke-width="0.8"/>
<text x="54.40" y="344.17" font-size="6.6" text-anchor="end" fill="#333">VEGF</text>
<line x1="55.80" y1="341.87" x2="60.20" y2="341.87" stroke="#231f20" stroke-width="0.8"/>
<text x="54.40" y="350.64" font-size="6.6" text-anchor="end" fill="#333">Trail</text>
<line x1="55.80" y1="348.34" x2="60.20" y2="348.34" stroke="#231f20" stroke-width="0.8"/>
<text x="54.40" y="357.11" font-size="6.6" text-anchor="end" fill="#333">TNFa</text>
<line x1="55.80" y1="354.81" x2="60.20" y2="354.81" stroke="#231f20" stroke-width="0.8"/>
<text x="54.40" y="363.58" font-size="6.6" text-anchor="end" fill="#333">TGFb</text>
<line x1="55.80" y1="361.28" x2="60.20" y2="361.28" stroke="#231f20" stroke-width="0.8"/>
<text x="54.40" y="370.05" font-size="6.6" text-anchor="end" fill="#333">PI3K</text>
<line x1="55.80" y1="367.75" x2="60.20" y2="367.75" stroke="#231f20" stroke-width="0.8"/>
<text x="54.40" y="376.52" font-size="6.6" text-anchor="end" fill="#333">p53</text>
<line x1="55.80" y1="374.22" x2="60.20" y2="374.22" stroke="#231f20" stroke-width="0.8"/>
<text x="54.40" y="382.99" font-size="6.6" text-anchor="end" fill="#333">NFKB</text>
<line x1="55.80" y1="380.69" x2="60.20" y2="380.69" stroke="#231f20" stroke-width="0.8"/>
<text x="54.40" y="389.46" font-size="6.6" text-anchor="end" fill="#333">MAPK</text>
<line x1="55.80" y1="387.16" x2="60.20" y2="387.16" stroke="#231f20" stroke-width="0.8"/>
<text x="54.40" y="395.93" font-size="6.6" text-anchor="end" fill="#333">JAK-STAT</text>
<line x1="55.80" y1="393.63" x2="60.20" y2="393.63" stroke="#231f20" stroke-width="0.8"/>
<text x="54.40" y="402.40" font-size="6.6" text-anchor="end" fill="#333">Hypoxia</text>
<line x1="55.80" y1="400.10" x2="60.20" y2="400.10" stroke="#231f20" stroke-width="0.8"/>
<text x="54.40" y="408.87" font-size="6.6" text-anchor="end" fill="#333">Estrogen</text>
<line x1="55.80" y1="406.57" x2="60.20" y2="406.57" stroke="#231f20" stroke-width="0.8"/>
<text x="54.40" y="415.34" font-size="6.6" text-anchor="end" fill="#333">EGFR</text>
<line x1="55.80" y1="413.04" x2="60.20" y2="413.04" stroke="#231f20" stroke-width="0.8"/>
<text x="54.40" y="421.81" font-size="6.6" text-anchor="end" fill="#333">Androgen</text>
<line x1="55.80" y1="419.51" x2="60.20" y2="419.51" stroke="#231f20" stroke-width="0.8"/>
<line x1="60.40" y1="331.00" x2="60.40" y2="423.30" stroke="#231f20" stroke-width="1.05"/>
<line x1="59.90" y1="422.80" x2="201.00" y2="422.80" stroke="#231f20" stroke-width="1.05"/>
<line x1="66.95" y1="422.80" x2="66.95" y2="425.00" stroke="#231f20" stroke-width="0.8"/>
<text x="66.95" y="433.60" font-size="6.3" text-anchor="middle">−5.0</text>
<line x1="99.07" y1="422.80" x2="99.07" y2="425.00" stroke="#231f20" stroke-width="0.8"/>
<text x="99.07" y="433.60" font-size="6.3" text-anchor="middle">−2.5</text>
<line x1="131.20" y1="422.80" x2="131.20" y2="425.00" stroke="#231f20" stroke-width="0.8"/>
<text x="131.20" y="433.60" font-size="6.3" text-anchor="middle">0</text>
<line x1="163.32" y1="422.80" x2="163.32" y2="425.00" stroke="#231f20" stroke-width="0.8"/>
<text x="163.32" y="433.60" font-size="6.3" text-anchor="middle">2.5</text>
<line x1="195.45" y1="422.80" x2="195.45" y2="425.00" stroke="#231f20" stroke-width="0.8"/>
<text x="195.45" y="433.60" font-size="6.3" text-anchor="middle">5.0</text>
<text x="131.30" y="447.30" font-size="7" text-anchor="middle" textLength="23.50" lengthAdjust="spacingAndGlyphs">Statistic</text>
<text x="161.00" y="445.60" font-size="6" textLength="44.80" lengthAdjust="spacingAndGlyphs">−log<tspan font-size="4.2" dy="1.2">10</tspan><tspan dy="-1.2"> (</tspan><tspan font-style="italic">P</tspan>-value)</text>
<circle cx="171.3" cy="454.8" r="2.2" fill="none" stroke="#555" stroke-width="0.6"/>
<text x="176.20" y="457.00" font-size="6" fill="#333">1</text>
<circle cx="188.8" cy="454.8" r="3.2" fill="none" stroke="#555" stroke-width="0.6"/>
<text x="194.00" y="457.00" font-size="6" fill="#333">2</text>
<text x="16.60" y="404.00" font-size="6.4" textLength="55.30" lengthAdjust="spacingAndGlyphs" transform="rotate(-90 16.60 404.00)">PROGENy pathway</text>
<circle cx="99.60" cy="335.40" r="3.30" fill="#a8b83a"/>
<circle cx="187.30" cy="341.70" r="3.80" fill="#a7b8e6"/>
<circle cx="93.50" cy="348.30" r="3.30" fill="#585858"/>
<circle cx="126.40" cy="354.80" r="1.80" fill="#7cb862"/>
<circle cx="118.70" cy="361.10" r="2.20" fill="#5aa2b6"/>
<circle cx="131.30" cy="367.60" r="1.10" fill="#2a3a5a"/>
<circle cx="131.30" cy="374.00" r="1.10" fill="#1a5060"/>
<circle cx="132.00" cy="380.50" r="1.10" fill="#a05878"/>
<circle cx="160.50" cy="387.00" r="2.90" fill="#e2a868"/>
<circle cx="159.00" cy="393.30" r="3.10" fill="#a4161c"/>
<circle cx="112.80" cy="400.00" r="2.40" fill="#d28c8c"/>
<circle cx="112.00" cy="406.30" r="2.60" fill="#3c9a3c"/>
<circle cx="108.80" cy="412.40" r="2.60" fill="#d4782a"/>
<circle cx="142.70" cy="419.00" r="2.00" fill="#5a2a20"/>
<text x="215.80" y="330.90" font-size="10.5" font-weight="bold" fill="#111">G</text>
<rect x="248.65" y="343.15" width="5.70" height="5.70" fill="#d8938a"/>
<rect x="248.65" y="349.15" width="5.70" height="5.70" fill="#f4f4f6"/>
<rect x="250.00" y="350.50" width="3" height="3" fill="#fff" stroke="#7a88b8" stroke-width="0.6"/>
<rect x="254.65" y="349.15" width="5.70" height="5.70" fill="#f4f4f6"/>
<rect x="256.00" y="350.50" width="3" height="3" fill="#fff" stroke="#7a88b8" stroke-width="0.6"/>
<rect x="248.65" y="355.15" width="5.70" height="5.70" fill="#5581c4"/>
<rect x="254.65" y="355.15" width="5.70" height="5.70" fill="#8aaad8"/>
<rect x="260.65" y="355.15" width="5.70" height="5.70" fill="#e8c4b8"/>
<rect x="262.00" y="356.50" width="3" height="3" fill="#fff" stroke="#a86a5a" stroke-width="0.6"/>
<rect x="248.65" y="361.15" width="5.70" height="5.70" fill="#d8938a"/>
<rect x="254.65" y="361.15" width="5.70" height="5.70" fill="#bd3a3a"/>
<rect x="260.65" y="361.15" width="5.70" height="5.70" fill="#bd3a3a"/>
<rect x="266.65" y="361.15" width="5.70" height="5.70" fill="#b8cce6"/>
<rect x="268.00" y="362.50" width="3" height="3" fill="#fff" stroke="#5a78b0" stroke-width="0.6"/>
<rect x="248.65" y="367.15" width="5.70" height="5.70" fill="#3560ac"/>
<rect x="254.65" y="367.15" width="5.70" height="5.70" fill="#f4f4f6"/>
<rect x="256.00" y="368.50" width="3" height="3" fill="#fff" stroke="#7a88b8" stroke-width="0.6"/>
<rect x="260.65" y="367.15" width="5.70" height="5.70" fill="#e8c4b8"/>
<rect x="262.00" y="368.50" width="3" height="3" fill="#fff" stroke="#a86a5a" stroke-width="0.6"/>
<rect x="266.65" y="367.15" width="5.70" height="5.70" fill="#d8938a"/>
<rect x="272.65" y="367.15" width="5.70" height="5.70" fill="#f4f4f6"/>
<rect x="274.00" y="368.50" width="3" height="3" fill="#fff" stroke="#7a88b8" stroke-width="0.6"/>
<rect x="248.65" y="373.15" width="5.70" height="5.70" fill="#3560ac"/>
<rect x="254.65" y="373.15" width="5.70" height="5.70" fill="#b8cce6"/>
<rect x="256.00" y="374.50" width="3" height="3" fill="#fff" stroke="#5a78b0" stroke-width="0.6"/>
<rect x="260.65" y="373.15" width="5.70" height="5.70" fill="#e8c4b8"/>
<rect x="262.00" y="374.50" width="3" height="3" fill="#fff" stroke="#a86a5a" stroke-width="0.6"/>
<rect x="266.65" y="373.15" width="5.70" height="5.70" fill="#921f26"/>
<rect x="272.65" y="373.15" width="5.70" height="5.70" fill="#f4f4f6"/>
<rect x="274.00" y="374.50" width="3" height="3" fill="#fff" stroke="#7a88b8" stroke-width="0.6"/>
<rect x="278.65" y="373.15" width="5.70" height="5.70" fill="#921f26"/>
<rect x="248.65" y="379.15" width="5.70" height="5.70" fill="#5581c4"/>
<rect x="254.65" y="379.15" width="5.70" height="5.70" fill="#b8cce6"/>
<rect x="256.00" y="380.50" width="3" height="3" fill="#fff" stroke="#5a78b0" stroke-width="0.6"/>
<rect x="260.65" y="379.15" width="5.70" height="5.70" fill="#e8c4b8"/>
<rect x="262.00" y="380.50" width="3" height="3" fill="#fff" stroke="#a86a5a" stroke-width="0.6"/>
<rect x="266.65" y="379.15" width="5.70" height="5.70" fill="#921f26"/>
<rect x="272.65" y="379.15" width="5.70" height="5.70" fill="#f4f4f6"/>
<rect x="274.00" y="380.50" width="3" height="3" fill="#fff" stroke="#7a88b8" stroke-width="0.6"/>
<rect x="278.65" y="379.15" width="5.70" height="5.70" fill="#921f26"/>
<rect x="284.65" y="379.15" width="5.70" height="5.70" fill="#921f26"/>
<rect x="248.65" y="385.15" width="5.70" height="5.70" fill="#3560ac"/>
<rect x="254.65" y="385.15" width="5.70" height="5.70" fill="#8aaad8"/>
<rect x="260.65" y="385.15" width="5.70" height="5.70" fill="#e8c4b8"/>
<rect x="262.00" y="386.50" width="3" height="3" fill="#fff" stroke="#a86a5a" stroke-width="0.6"/>
<rect x="266.65" y="385.15" width="5.70" height="5.70" fill="#921f26"/>
<rect x="272.65" y="385.15" width="5.70" height="5.70" fill="#f4f4f6"/>
<rect x="274.00" y="386.50" width="3" height="3" fill="#fff" stroke="#7a88b8" stroke-width="0.6"/>
<rect x="278.65" y="385.15" width="5.70" height="5.70" fill="#921f26"/>
<rect x="284.65" y="385.15" width="5.70" height="5.70" fill="#921f26"/>
<rect x="290.65" y="385.15" width="5.70" height="5.70" fill="#921f26"/>
<rect x="248.65" y="391.15" width="5.70" height="5.70" fill="#8aaad8"/>
<rect x="254.65" y="391.15" width="5.70" height="5.70" fill="#5581c4"/>
<rect x="260.65" y="391.15" width="5.70" height="5.70" fill="#f4f4f6"/>
<rect x="262.00" y="392.50" width="3" height="3" fill="#fff" stroke="#7a88b8" stroke-width="0.6"/>
<rect x="266.65" y="391.15" width="5.70" height="5.70" fill="#e8c4b8"/>
<rect x="268.00" y="392.50" width="3" height="3" fill="#fff" stroke="#a86a5a" stroke-width="0.6"/>
<rect x="272.65" y="391.15" width="5.70" height="5.70" fill="#5581c4"/>
<rect x="278.65" y="391.15" width="5.70" height="5.70" fill="#d8938a"/>
<rect x="284.65" y="391.15" width="5.70" height="5.70" fill="#d8938a"/>
<rect x="290.65" y="391.15" width="5.70" height="5.70" fill="#d8938a"/>
<rect x="296.65" y="391.15" width="5.70" height="5.70" fill="#d8938a"/>
<rect x="248.65" y="397.15" width="5.70" height="5.70" fill="#8aaad8"/>
<rect x="254.65" y="397.15" width="5.70" height="5.70" fill="#5581c4"/>
<rect x="260.65" y="397.15" width="5.70" height="5.70" fill="#f4f4f6"/>
<rect x="262.00" y="398.50" width="3" height="3" fill="#fff" stroke="#7a88b8" stroke-width="0.6"/>
<rect x="266.65" y="397.15" width="5.70" height="5.70" fill="#921f26"/>
<rect x="272.65" y="397.15" width="5.70" height="5.70" fill="#f4f4f6"/>
<rect x="274.00" y="398.50" width="3" height="3" fill="#fff" stroke="#7a88b8" stroke-width="0.6"/>
<rect x="278.65" y="397.15" width="5.70" height="5.70" fill="#d8938a"/>
<rect x="284.65" y="397.15" width="5.70" height="5.70" fill="#921f26"/>
<rect x="290.65" y="397.15" width="5.70" height="5.70" fill="#bd3a3a"/>
<rect x="296.65" y="397.15" width="5.70" height="5.70" fill="#bd3a3a"/>
<rect x="302.65" y="397.15" width="5.70" height="5.70" fill="#e8c4b8"/>
<rect x="304.00" y="398.50" width="3" height="3" fill="#fff" stroke="#a86a5a" stroke-width="0.6"/>
<rect x="248.65" y="403.15" width="5.70" height="5.70" fill="#d8938a"/>
<rect x="254.65" y="403.15" width="5.70" height="5.70" fill="#921f26"/>
<rect x="260.65" y="403.15" width="5.70" height="5.70" fill="#f4f4f6"/>
<rect x="262.00" y="404.50" width="3" height="3" fill="#fff" stroke="#7a88b8" stroke-width="0.6"/>
<rect x="266.65" y="403.15" width="5.70" height="5.70" fill="#5581c4"/>
<rect x="272.65" y="403.15" width="5.70" height="5.70" fill="#bd3a3a"/>
<rect x="278.65" y="403.15" width="5.70" height="5.70" fill="#b8cce6"/>
<rect x="280.00" y="404.50" width="3" height="3" fill="#fff" stroke="#5a78b0" stroke-width="0.6"/>
<rect x="284.65" y="403.15" width="5.70" height="5.70" fill="#5581c4"/>
<rect x="290.65" y="403.15" width="5.70" height="5.70" fill="#8aaad8"/>
<rect x="296.65" y="403.15" width="5.70" height="5.70" fill="#8aaad8"/>
<rect x="302.65" y="403.15" width="5.70" height="5.70" fill="#5581c4"/>
<rect x="308.65" y="403.15" width="5.70" height="5.70" fill="#5581c4"/>
<rect x="248.65" y="409.15" width="5.70" height="5.70" fill="#5581c4"/>
<rect x="254.65" y="409.15" width="5.70" height="5.70" fill="#5581c4"/>
<rect x="260.65" y="409.15" width="5.70" height="5.70" fill="#f4f4f6"/>
<rect x="262.00" y="410.50" width="3" height="3" fill="#fff" stroke="#7a88b8" stroke-width="0.6"/>
<rect x="266.65" y="409.15" width="5.70" height="5.70" fill="#d8938a"/>
<rect x="272.65" y="409.15" width="5.70" height="5.70" fill="#8aaad8"/>
<rect x="278.65" y="409.15" width="5.70" height="5.70" fill="#bd3a3a"/>
<rect x="284.65" y="409.15" width="5.70" height="5.70" fill="#bd3a3a"/>
<rect x="290.65" y="409.15" width="5.70" height="5.70" fill="#bd3a3a"/>
<rect x="296.65" y="409.15" width="5.70" height="5.70" fill="#bd3a3a"/>
<rect x="302.65" y="409.15" width="5.70" height="5.70" fill="#921f26"/>
<rect x="308.65" y="409.15" width="5.70" height="5.70" fill="#d8938a"/>
<rect x="314.65" y="409.15" width="5.70" height="5.70" fill="#5581c4"/>
<rect x="248.65" y="415.15" width="5.70" height="5.70" fill="#921f26"/>
<rect x="254.65" y="415.15" width="5.70" height="5.70" fill="#bd3a3a"/>
<rect x="260.65" y="415.15" width="5.70" height="5.70" fill="#f4f4f6"/>
<rect x="262.00" y="416.50" width="3" height="3" fill="#fff" stroke="#7a88b8" stroke-width="0.6"/>
<rect x="266.65" y="415.15" width="5.70" height="5.70" fill="#5581c4"/>
<rect x="272.65" y="415.15" width="5.70" height="5.70" fill="#bd3a3a"/>
<rect x="278.65" y="415.15" width="5.70" height="5.70" fill="#5581c4"/>
<rect x="284.65" y="415.15" width="5.70" height="5.70" fill="#5581c4"/>
<rect x="290.65" y="415.15" width="5.70" height="5.70" fill="#5581c4"/>
<rect x="296.65" y="415.15" width="5.70" height="5.70" fill="#5581c4"/>
<rect x="302.65" y="415.15" width="5.70" height="5.70" fill="#5581c4"/>
<rect x="308.65" y="415.15" width="5.70" height="5.70" fill="#5581c4"/>
<rect x="314.65" y="415.15" width="5.70" height="5.70" fill="#921f26"/>
<rect x="320.65" y="415.15" width="5.70" height="5.70" fill="#5581c4"/>
<rect x="248.65" y="421.15" width="5.70" height="5.70" fill="#b8cce6"/>
<rect x="250.00" y="422.50" width="3" height="3" fill="#fff" stroke="#5a78b0" stroke-width="0.6"/>
<rect x="254.65" y="421.15" width="5.70" height="5.70" fill="#b8cce6"/>
<rect x="256.00" y="422.50" width="3" height="3" fill="#fff" stroke="#5a78b0" stroke-width="0.6"/>
<rect x="260.65" y="421.15" width="5.70" height="5.70" fill="#f4f4f6"/>
<rect x="262.00" y="422.50" width="3" height="3" fill="#fff" stroke="#7a88b8" stroke-width="0.6"/>
<rect x="266.65" y="421.15" width="5.70" height="5.70" fill="#f4f4f6"/>
<rect x="268.00" y="422.50" width="3" height="3" fill="#fff" stroke="#7a88b8" stroke-width="0.6"/>
<rect x="272.65" y="421.15" width="5.70" height="5.70" fill="#b8cce6"/>
<rect x="274.00" y="422.50" width="3" height="3" fill="#fff" stroke="#5a78b0" stroke-width="0.6"/>
<rect x="278.65" y="421.15" width="5.70" height="5.70" fill="#e8c4b8"/>
<rect x="280.00" y="422.50" width="3" height="3" fill="#fff" stroke="#a86a5a" stroke-width="0.6"/>
<rect x="284.65" y="421.15" width="5.70" height="5.70" fill="#e8c4b8"/>
<rect x="286.00" y="422.50" width="3" height="3" fill="#fff" stroke="#a86a5a" stroke-width="0.6"/>
<rect x="290.65" y="421.15" width="5.70" height="5.70" fill="#e8c4b8"/>
<rect x="292.00" y="422.50" width="3" height="3" fill="#fff" stroke="#a86a5a" stroke-width="0.6"/>
<rect x="296.65" y="421.15" width="5.70" height="5.70" fill="#e8c4b8"/>
<rect x="298.00" y="422.50" width="3" height="3" fill="#fff" stroke="#a86a5a" stroke-width="0.6"/>
<rect x="302.65" y="421.15" width="5.70" height="5.70" fill="#e8c4b8"/>
<rect x="304.00" y="422.50" width="3" height="3" fill="#fff" stroke="#a86a5a" stroke-width="0.6"/>
<rect x="308.65" y="421.15" width="5.70" height="5.70" fill="#e8c4b8"/>
<rect x="310.00" y="422.50" width="3" height="3" fill="#fff" stroke="#a86a5a" stroke-width="0.6"/>
<rect x="314.65" y="421.15" width="5.70" height="5.70" fill="#b8cce6"/>
<rect x="316.00" y="422.50" width="3" height="3" fill="#fff" stroke="#5a78b0" stroke-width="0.6"/>
<rect x="320.65" y="421.15" width="5.70" height="5.70" fill="#f4f4f6"/>
<rect x="322.00" y="422.50" width="3" height="3" fill="#fff" stroke="#7a88b8" stroke-width="0.6"/>
<rect x="326.65" y="421.15" width="5.70" height="5.70" fill="#b8cce6"/>
<rect x="328.00" y="422.50" width="3" height="3" fill="#fff" stroke="#5a78b0" stroke-width="0.6"/>
<rect x="248.65" y="427.15" width="5.70" height="5.70" fill="#bd3a3a"/>
<rect x="254.65" y="427.15" width="5.70" height="5.70" fill="#bd3a3a"/>
<rect x="260.65" y="427.15" width="5.70" height="5.70" fill="#f4f4f6"/>
<rect x="262.00" y="428.50" width="3" height="3" fill="#fff" stroke="#7a88b8" stroke-width="0.6"/>
<rect x="266.65" y="427.15" width="5.70" height="5.70" fill="#b8cce6"/>
<rect x="268.00" y="428.50" width="3" height="3" fill="#fff" stroke="#5a78b0" stroke-width="0.6"/>
<rect x="272.65" y="427.15" width="5.70" height="5.70" fill="#e8c4b8"/>
<rect x="274.00" y="428.50" width="3" height="3" fill="#fff" stroke="#a86a5a" stroke-width="0.6"/>
<rect x="278.65" y="427.15" width="5.70" height="5.70" fill="#5581c4"/>
<rect x="284.65" y="427.15" width="5.70" height="5.70" fill="#5581c4"/>
<rect x="290.65" y="427.15" width="5.70" height="5.70" fill="#5581c4"/>
<rect x="296.65" y="427.15" width="5.70" height="5.70" fill="#5581c4"/>
<rect x="302.65" y="427.15" width="5.70" height="5.70" fill="#8aaad8"/>
<rect x="308.65" y="427.15" width="5.70" height="5.70" fill="#5581c4"/>
<rect x="314.65" y="427.15" width="5.70" height="5.70" fill="#d8938a"/>
<rect x="320.65" y="427.15" width="5.70" height="5.70" fill="#5581c4"/>
<rect x="326.65" y="427.15" width="5.70" height="5.70" fill="#bd3a3a"/>
<rect x="332.65" y="427.15" width="5.70" height="5.70" fill="#b8cce6"/>
<rect x="334.00" y="428.50" width="3" height="3" fill="#fff" stroke="#5a78b0" stroke-width="0.6"/>
<rect x="248.65" y="433.15" width="5.70" height="5.70" fill="#921f26"/>
<rect x="254.65" y="433.15" width="5.70" height="5.70" fill="#bd3a3a"/>
<rect x="260.65" y="433.15" width="5.70" height="5.70" fill="#f4f4f6"/>
<rect x="262.00" y="434.50" width="3" height="3" fill="#fff" stroke="#7a88b8" stroke-width="0.6"/>
<rect x="266.65" y="433.15" width="5.70" height="5.70" fill="#5581c4"/>
<rect x="272.65" y="433.15" width="5.70" height="5.70" fill="#e8c4b8"/>
<rect x="274.00" y="434.50" width="3" height="3" fill="#fff" stroke="#a86a5a" stroke-width="0.6"/>
<rect x="278.65" y="433.15" width="5.70" height="5.70" fill="#5581c4"/>
<rect x="284.65" y="433.15" width="5.70" height="5.70" fill="#5581c4"/>
<rect x="290.65" y="433.15" width="5.70" height="5.70" fill="#5581c4"/>
<rect x="296.65" y="433.15" width="5.70" height="5.70" fill="#5581c4"/>
<rect x="302.65" y="433.15" width="5.70" height="5.70" fill="#8aaad8"/>
<rect x="308.65" y="433.15" width="5.70" height="5.70" fill="#5581c4"/>
<rect x="314.65" y="433.15" width="5.70" height="5.70" fill="#5581c4"/>
<rect x="320.65" y="433.15" width="5.70" height="5.70" fill="#b8cce6"/>
<rect x="322.00" y="434.50" width="3" height="3" fill="#fff" stroke="#5a78b0" stroke-width="0.6"/>
<rect x="326.65" y="433.15" width="5.70" height="5.70" fill="#921f26"/>
<rect x="332.65" y="433.15" width="5.70" height="5.70" fill="#5581c4"/>
<rect x="338.65" y="433.15" width="5.70" height="5.70" fill="#bd3a3a"/>
<rect x="248.65" y="439.15" width="5.70" height="5.70" fill="#b8cce6"/>
<rect x="250.00" y="440.50" width="3" height="3" fill="#fff" stroke="#5a78b0" stroke-width="0.6"/>
<rect x="254.65" y="439.15" width="5.70" height="5.70" fill="#b8cce6"/>
<rect x="256.00" y="440.50" width="3" height="3" fill="#fff" stroke="#5a78b0" stroke-width="0.6"/>
<rect x="260.65" y="439.15" width="5.70" height="5.70" fill="#f4f4f6"/>
<rect x="262.00" y="440.50" width="3" height="3" fill="#fff" stroke="#7a88b8" stroke-width="0.6"/>
<rect x="266.65" y="439.15" width="5.70" height="5.70" fill="#e8c4b8"/>
<rect x="268.00" y="440.50" width="3" height="3" fill="#fff" stroke="#a86a5a" stroke-width="0.6"/>
<rect x="272.65" y="439.15" width="5.70" height="5.70" fill="#b8cce6"/>
<rect x="274.00" y="440.50" width="3" height="3" fill="#fff" stroke="#5a78b0" stroke-width="0.6"/>
<rect x="278.65" y="439.15" width="5.70" height="5.70" fill="#e8c4b8"/>
<rect x="280.00" y="440.50" width="3" height="3" fill="#fff" stroke="#a86a5a" stroke-width="0.6"/>
<rect x="284.65" y="439.15" width="5.70" height="5.70" fill="#e8c4b8"/>
<rect x="286.00" y="440.50" width="3" height="3" fill="#fff" stroke="#a86a5a" stroke-width="0.6"/>
<rect x="290.65" y="439.15" width="5.70" height="5.70" fill="#e8c4b8"/>
<rect x="292.00" y="440.50" width="3" height="3" fill="#fff" stroke="#a86a5a" stroke-width="0.6"/>
<rect x="296.65" y="439.15" width="5.70" height="5.70" fill="#e8c4b8"/>
<rect x="298.00" y="440.50" width="3" height="3" fill="#fff" stroke="#a86a5a" stroke-width="0.6"/>
<rect x="302.65" y="439.15" width="5.70" height="5.70" fill="#d8938a"/>
<rect x="308.65" y="439.15" width="5.70" height="5.70" fill="#e8c4b8"/>
<rect x="310.00" y="440.50" width="3" height="3" fill="#fff" stroke="#a86a5a" stroke-width="0.6"/>
<rect x="314.65" y="439.15" width="5.70" height="5.70" fill="#b8cce6"/>
<rect x="316.00" y="440.50" width="3" height="3" fill="#fff" stroke="#5a78b0" stroke-width="0.6"/>
<rect x="320.65" y="439.15" width="5.70" height="5.70" fill="#e8c4b8"/>
<rect x="322.00" y="440.50" width="3" height="3" fill="#fff" stroke="#a86a5a" stroke-width="0.6"/>
<rect x="326.65" y="439.15" width="5.70" height="5.70" fill="#5581c4"/>
<rect x="332.65" y="439.15" width="5.70" height="5.70" fill="#d8938a"/>
<rect x="338.65" y="439.15" width="5.70" height="5.70" fill="#5581c4"/>
<rect x="344.65" y="439.15" width="5.70" height="5.70" fill="#8aaad8"/>
<rect x="248.65" y="445.15" width="5.70" height="5.70" fill="#bd3a3a"/>
<rect x="254.65" y="445.15" width="5.70" height="5.70" fill="#d8938a"/>
<rect x="260.65" y="445.15" width="5.70" height="5.70" fill="#f4f4f6"/>
<rect x="262.00" y="446.50" width="3" height="3" fill="#fff" stroke="#7a88b8" stroke-width="0.6"/>
<rect x="266.65" y="445.15" width="5.70" height="5.70" fill="#5581c4"/>
<rect x="272.65" y="445.15" width="5.70" height="5.70" fill="#b8cce6"/>
<rect x="274.00" y="446.50" width="3" height="3" fill="#fff" stroke="#5a78b0" stroke-width="0.6"/>
<rect x="278.65" y="445.15" width="5.70" height="5.70" fill="#b8cce6"/>
<rect x="280.00" y="446.50" width="3" height="3" fill="#fff" stroke="#5a78b0" stroke-width="0.6"/>
<rect x="284.65" y="445.15" width="5.70" height="5.70" fill="#5581c4"/>
<rect x="290.65" y="445.15" width="5.70" height="5.70" fill="#5581c4"/>
<rect x="296.65" y="445.15" width="5.70" height="5.70" fill="#b8cce6"/>
<rect x="298.00" y="446.50" width="3" height="3" fill="#fff" stroke="#5a78b0" stroke-width="0.6"/>
<rect x="302.65" y="445.15" width="5.70" height="5.70" fill="#5581c4"/>
<rect x="308.65" y="445.15" width="5.70" height="5.70" fill="#5581c4"/>
<rect x="314.65" y="445.15" width="5.70" height="5.70" fill="#bd3a3a"/>
<rect x="320.65" y="445.15" width="5.70" height="5.70" fill="#5581c4"/>
<rect x="326.65" y="445.15" width="5.70" height="5.70" fill="#921f26"/>
<rect x="332.65" y="445.15" width="5.70" height="5.70" fill="#b8cce6"/>
<rect x="334.00" y="446.50" width="3" height="3" fill="#fff" stroke="#5a78b0" stroke-width="0.6"/>
<rect x="338.65" y="445.15" width="5.70" height="5.70" fill="#e8c4b8"/>
<rect x="340.00" y="446.50" width="3" height="3" fill="#fff" stroke="#a86a5a" stroke-width="0.6"/>
<rect x="344.65" y="445.15" width="5.70" height="5.70" fill="#e8c4b8"/>
<rect x="346.00" y="446.50" width="3" height="3" fill="#fff" stroke="#a86a5a" stroke-width="0.6"/>
<rect x="350.65" y="445.15" width="5.70" height="5.70" fill="#e8c4b8"/>
<rect x="352.00" y="446.50" width="3" height="3" fill="#fff" stroke="#a86a5a" stroke-width="0.6"/>
<rect x="248.65" y="451.15" width="5.70" height="5.70" fill="#e8c4b8"/>
<rect x="250.00" y="452.50" width="3" height="3" fill="#fff" stroke="#a86a5a" stroke-width="0.6"/>
<rect x="254.65" y="451.15" width="5.70" height="5.70" fill="#f4f4f6"/>
<rect x="256.00" y="452.50" width="3" height="3" fill="#fff" stroke="#7a88b8" stroke-width="0.6"/>
<rect x="260.65" y="451.15" width="5.70" height="5.70" fill="#b8cce6"/>
<rect x="262.00" y="452.50" width="3" height="3" fill="#fff" stroke="#5a78b0" stroke-width="0.6"/>
<rect x="266.65" y="451.15" width="5.70" height="5.70" fill="#b8cce6"/>
<rect x="268.00" y="452.50" width="3" height="3" fill="#fff" stroke="#5a78b0" stroke-width="0.6"/>
<rect x="272.65" y="451.15" width="5.70" height="5.70" fill="#5581c4"/>
<rect x="278.65" y="451.15" width="5.70" height="5.70" fill="#f4f4f6"/>
<rect x="280.00" y="452.50" width="3" height="3" fill="#fff" stroke="#7a88b8" stroke-width="0.6"/>
<rect x="284.65" y="451.15" width="5.70" height="5.70" fill="#f4f4f6"/>
<rect x="286.00" y="452.50" width="3" height="3" fill="#fff" stroke="#7a88b8" stroke-width="0.6"/>
<rect x="290.65" y="451.15" width="5.70" height="5.70" fill="#f4f4f6"/>
<rect x="292.00" y="452.50" width="3" height="3" fill="#fff" stroke="#7a88b8" stroke-width="0.6"/>
<rect x="296.65" y="451.15" width="5.70" height="5.70" fill="#f4f4f6"/>
<rect x="298.00" y="452.50" width="3" height="3" fill="#fff" stroke="#7a88b8" stroke-width="0.6"/>
<rect x="302.65" y="451.15" width="5.70" height="5.70" fill="#e8c4b8"/>
<rect x="304.00" y="452.50" width="3" height="3" fill="#fff" stroke="#a86a5a" stroke-width="0.6"/>
<rect x="308.65" y="451.15" width="5.70" height="5.70" fill="#f4f4f6"/>
<rect x="310.00" y="452.50" width="3" height="3" fill="#fff" stroke="#7a88b8" stroke-width="0.6"/>
<rect x="314.65" y="451.15" width="5.70" height="5.70" fill="#f4f4f6"/>
<rect x="316.00" y="452.50" width="3" height="3" fill="#fff" stroke="#7a88b8" stroke-width="0.6"/>
<rect x="320.65" y="451.15" width="5.70" height="5.70" fill="#f8f8f8"/>
<rect x="322.90" y="453.40" width="1.20" height="1.20" fill="#666"/>
<rect x="326.65" y="451.15" width="5.70" height="5.70" fill="#f8f8f8"/>
<rect x="328.90" y="453.40" width="1.20" height="1.20" fill="#666"/>
<rect x="332.65" y="451.15" width="5.70" height="5.70" fill="#f4f4f6"/>
<rect x="334.00" y="452.50" width="3" height="3" fill="#fff" stroke="#7a88b8" stroke-width="0.6"/>
<rect x="338.65" y="451.15" width="5.70" height="5.70" fill="#f8f8f8"/>
<rect x="340.90" y="453.40" width="1.20" height="1.20" fill="#666"/>
<rect x="344.65" y="451.15" width="5.70" height="5.70" fill="#f8f8f8"/>
<rect x="346.90" y="453.40" width="1.20" height="1.20" fill="#666"/>
<rect x="350.65" y="451.15" width="5.70" height="5.70" fill="#f4f4f6"/>
<rect x="352.00" y="452.50" width="3" height="3" fill="#fff" stroke="#7a88b8" stroke-width="0.6"/>
<rect x="356.65" y="451.15" width="5.70" height="5.70" fill="#e8c4b8"/>
<rect x="358.00" y="452.50" width="3" height="3" fill="#fff" stroke="#a86a5a" stroke-width="0.6"/>
<rect x="248.65" y="457.15" width="5.70" height="5.70" fill="#e8c4b8"/>
<rect x="250.00" y="458.50" width="3" height="3" fill="#fff" stroke="#a86a5a" stroke-width="0.6"/>
<rect x="254.65" y="457.15" width="5.70" height="5.70" fill="#5581c4"/>
<rect x="260.65" y="457.15" width="5.70" height="5.70" fill="#f4f4f6"/>
<rect x="262.00" y="458.50" width="3" height="3" fill="#fff" stroke="#7a88b8" stroke-width="0.6"/>
<rect x="266.65" y="457.15" width="5.70" height="5.70" fill="#f8f8f8"/>
<rect x="268.90" y="459.40" width="1.20" height="1.20" fill="#666"/>
<rect x="272.65" y="457.15" width="5.70" height="5.70" fill="#3560ac"/>
<rect x="278.65" y="457.15" width="5.70" height="5.70" fill="#f8f8f8"/>
<rect x="280.90" y="459.40" width="1.20" height="1.20" fill="#666"/>
<rect x="284.65" y="457.15" width="5.70" height="5.70" fill="#f8f8f8"/>
<rect x="286.90" y="459.40" width="1.20" height="1.20" fill="#666"/>
<rect x="290.65" y="457.15" width="5.70" height="5.70" fill="#f8f8f8"/>
<rect x="292.90" y="459.40" width="1.20" height="1.20" fill="#666"/>
<rect x="296.65" y="457.15" width="5.70" height="5.70" fill="#f8f8f8"/>
<rect x="298.90" y="459.40" width="1.20" height="1.20" fill="#666"/>
<rect x="302.65" y="457.15" width="5.70" height="5.70" fill="#bd3a3a"/>
<rect x="308.65" y="457.15" width="5.70" height="5.70" fill="#f4f4f6"/>
<rect x="310.00" y="458.50" width="3" height="3" fill="#fff" stroke="#7a88b8" stroke-width="0.6"/>
<rect x="314.65" y="457.15" width="5.70" height="5.70" fill="#5581c4"/>
<rect x="320.65" y="457.15" width="5.70" height="5.70" fill="#e8c4b8"/>
<rect x="322.00" y="458.50" width="3" height="3" fill="#fff" stroke="#a86a5a" stroke-width="0.6"/>
<rect x="326.65" y="457.15" width="5.70" height="5.70" fill="#b8cce6"/>
<rect x="328.00" y="458.50" width="3" height="3" fill="#fff" stroke="#5a78b0" stroke-width="0.6"/>
<rect x="332.65" y="457.15" width="5.70" height="5.70" fill="#bd3a3a"/>
<rect x="338.65" y="457.15" width="5.70" height="5.70" fill="#f4f4f6"/>
<rect x="340.00" y="458.50" width="3" height="3" fill="#fff" stroke="#7a88b8" stroke-width="0.6"/>
<rect x="344.65" y="457.15" width="5.70" height="5.70" fill="#f4f4f6"/>
<rect x="346.00" y="458.50" width="3" height="3" fill="#fff" stroke="#7a88b8" stroke-width="0.6"/>
<rect x="350.65" y="457.15" width="5.70" height="5.70" fill="#f4f4f6"/>
<rect x="352.00" y="458.50" width="3" height="3" fill="#fff" stroke="#7a88b8" stroke-width="0.6"/>
<rect x="356.65" y="457.15" width="5.70" height="5.70" fill="#f4f4f6"/>
<rect x="358.00" y="458.50" width="3" height="3" fill="#fff" stroke="#7a88b8" stroke-width="0.6"/>
<rect x="362.65" y="457.15" width="5.70" height="5.70" fill="#921f26"/>
<rect x="248.65" y="463.15" width="5.70" height="5.70" fill="#921f26"/>
<rect x="254.65" y="463.15" width="5.70" height="5.70" fill="#bd3a3a"/>
<rect x="260.65" y="463.15" width="5.70" height="5.70" fill="#b8cce6"/>
<rect x="262.00" y="464.50" width="3" height="3" fill="#fff" stroke="#5a78b0" stroke-width="0.6"/>
<rect x="266.65" y="463.15" width="5.70" height="5.70" fill="#5581c4"/>
<rect x="272.65" y="463.15" width="5.70" height="5.70" fill="#e8c4b8"/>
<rect x="274.00" y="464.50" width="3" height="3" fill="#fff" stroke="#a86a5a" stroke-width="0.6"/>
<rect x="278.65" y="463.15" width="5.70" height="5.70" fill="#3560ac"/>
<rect x="284.65" y="463.15" width="5.70" height="5.70" fill="#5581c4"/>
<rect x="290.65" y="463.15" width="5.70" height="5.70" fill="#3560ac"/>
<rect x="296.65" y="463.15" width="5.70" height="5.70" fill="#5581c4"/>
<rect x="302.65" y="463.15" width="5.70" height="5.70" fill="#5581c4"/>
<rect x="308.65" y="463.15" width="5.70" height="5.70" fill="#5581c4"/>
<rect x="314.65" y="463.15" width="5.70" height="5.70" fill="#bd3a3a"/>
<rect x="320.65" y="463.15" width="5.70" height="5.70" fill="#3560ac"/>
<rect x="326.65" y="463.15" width="5.70" height="5.70" fill="#bd3a3a"/>
<rect x="332.65" y="463.15" width="5.70" height="5.70" fill="#b8cce6"/>
<rect x="334.00" y="464.50" width="3" height="3" fill="#fff" stroke="#5a78b0" stroke-width="0.6"/>
<rect x="338.65" y="463.15" width="5.70" height="5.70" fill="#bd3a3a"/>
<rect x="344.65" y="463.15" width="5.70" height="5.70" fill="#5581c4"/>
<rect x="350.65" y="463.15" width="5.70" height="5.70" fill="#f4f4f6"/>
<rect x="352.00" y="464.50" width="3" height="3" fill="#fff" stroke="#7a88b8" stroke-width="0.6"/>
<rect x="356.65" y="463.15" width="5.70" height="5.70" fill="#921f26"/>
<rect x="362.65" y="463.15" width="5.70" height="5.70" fill="#f4f4f6"/>
<rect x="364.00" y="464.50" width="3" height="3" fill="#fff" stroke="#7a88b8" stroke-width="0.6"/>
<rect x="368.65" y="463.15" width="5.70" height="5.70" fill="#b8cce6"/>
<rect x="370.00" y="464.50" width="3" height="3" fill="#fff" stroke="#5a78b0" stroke-width="0.6"/>
<text x="242.30" y="342.10" font-size="6.1" text-anchor="end" font-style="italic" fill="#333">CEBPA</text>
<line x1="243.80" y1="340.00" x2="247.40" y2="340.00" stroke="#231f20" stroke-width="0.7"/>
<text x="253.60" y="472.00" font-size="6.1" text-anchor="end" font-style="italic" fill="#333" transform="rotate(-90 253.60 472.00)">CEBPA</text>
<line x1="251.50" y1="469.00" x2="251.50" y2="471.00" stroke="#231f20" stroke-width="0.7"/>
<text x="242.30" y="348.10" font-size="6.1" text-anchor="end" font-style="italic" fill="#333">SPI1</text>
<line x1="243.80" y1="346.00" x2="247.40" y2="346.00" stroke="#231f20" stroke-width="0.7"/>
<text x="259.60" y="472.00" font-size="6.1" text-anchor="end" font-style="italic" fill="#333" transform="rotate(-90 259.60 472.00)">SPI1</text>
<line x1="257.50" y1="469.00" x2="257.50" y2="471.00" stroke="#231f20" stroke-width="0.7"/>
<text x="242.30" y="354.10" font-size="6.1" text-anchor="end" font-style="italic" fill="#333">CLEC5A</text>
<line x1="243.80" y1="352.00" x2="247.40" y2="352.00" stroke="#231f20" stroke-width="0.7"/>
<text x="265.60" y="472.00" font-size="6.1" text-anchor="end" font-style="italic" fill="#333" transform="rotate(-90 265.60 472.00)">CLEC5A</text>
<line x1="263.50" y1="469.00" x2="263.50" y2="471.00" stroke="#231f20" stroke-width="0.7"/>
<text x="242.30" y="360.10" font-size="6.1" text-anchor="end" font-style="italic" fill="#333">CYBB</text>
<line x1="243.80" y1="358.00" x2="247.40" y2="358.00" stroke="#231f20" stroke-width="0.7"/>
<text x="271.60" y="472.00" font-size="6.1" text-anchor="end" font-style="italic" fill="#333" transform="rotate(-90 271.60 472.00)">CYBB</text>
<line x1="269.50" y1="469.00" x2="269.50" y2="471.00" stroke="#231f20" stroke-width="0.7"/>
<text x="242.30" y="366.10" font-size="6.1" text-anchor="end" font-style="italic" fill="#333">S100A9</text>
<line x1="243.80" y1="364.00" x2="247.40" y2="364.00" stroke="#231f20" stroke-width="0.7"/>
<text x="277.60" y="472.00" font-size="6.1" text-anchor="end" font-style="italic" fill="#333" transform="rotate(-90 277.60 472.00)">S100A9</text>
<line x1="275.50" y1="469.00" x2="275.50" y2="471.00" stroke="#231f20" stroke-width="0.7"/>
<text x="242.30" y="372.10" font-size="6.1" text-anchor="end" font-style="italic" fill="#333">IFI16</text>
<line x1="243.80" y1="370.00" x2="247.40" y2="370.00" stroke="#231f20" stroke-width="0.7"/>
<text x="283.60" y="472.00" font-size="6.1" text-anchor="end" font-style="italic" fill="#333" transform="rotate(-90 283.60 472.00)">IFI16</text>
<line x1="281.50" y1="469.00" x2="281.50" y2="471.00" stroke="#231f20" stroke-width="0.7"/>
<text x="242.30" y="378.10" font-size="6.1" text-anchor="end" font-style="italic" fill="#333">GBP1</text>
<line x1="243.80" y1="376.00" x2="247.40" y2="376.00" stroke="#231f20" stroke-width="0.7"/>
<text x="289.60" y="472.00" font-size="6.1" text-anchor="end" font-style="italic" fill="#333" transform="rotate(-90 289.60 472.00)">GBP1</text>
<line x1="287.50" y1="469.00" x2="287.50" y2="471.00" stroke="#231f20" stroke-width="0.7"/>
<text x="242.30" y="384.10" font-size="6.1" text-anchor="end" font-style="italic" fill="#333">IFIH1</text>
<line x1="243.80" y1="382.00" x2="247.40" y2="382.00" stroke="#231f20" stroke-width="0.7"/>
<text x="295.60" y="472.00" font-size="6.1" text-anchor="end" font-style="italic" fill="#333" transform="rotate(-90 295.60 472.00)">IFIH1</text>
<line x1="293.50" y1="469.00" x2="293.50" y2="471.00" stroke="#231f20" stroke-width="0.7"/>
<text x="242.30" y="390.10" font-size="6.1" text-anchor="end" font-style="italic" fill="#333">AIM2</text>
<line x1="243.80" y1="388.00" x2="247.40" y2="388.00" stroke="#231f20" stroke-width="0.7"/>
<text x="301.60" y="472.00" font-size="6.1" text-anchor="end" font-style="italic" fill="#333" transform="rotate(-90 301.60 472.00)">AIM2</text>
<line x1="299.50" y1="469.00" x2="299.50" y2="471.00" stroke="#231f20" stroke-width="0.7"/>
<text x="242.30" y="396.10" font-size="6.1" text-anchor="end" font-style="italic" fill="#333">TLR2</text>
<line x1="243.80" y1="394.00" x2="247.40" y2="394.00" stroke="#231f20" stroke-width="0.7"/>
<text x="307.60" y="472.00" font-size="6.1" text-anchor="end" font-style="italic" fill="#333" transform="rotate(-90 307.60 472.00)">TLR2</text>
<line x1="305.50" y1="469.00" x2="305.50" y2="471.00" stroke="#231f20" stroke-width="0.7"/>
<text x="242.30" y="402.10" font-size="6.1" text-anchor="end" font-style="italic" fill="#333">ABCA1</text>
<line x1="243.80" y1="400.00" x2="247.40" y2="400.00" stroke="#231f20" stroke-width="0.7"/>
<text x="313.60" y="472.00" font-size="6.1" text-anchor="end" font-style="italic" fill="#333" transform="rotate(-90 313.60 472.00)">ABCA1</text>
<line x1="311.50" y1="469.00" x2="311.50" y2="471.00" stroke="#231f20" stroke-width="0.7"/>
<text x="242.30" y="408.10" font-size="6.1" text-anchor="end" font-style="italic" fill="#333">S100A11</text>
<line x1="243.80" y1="406.00" x2="247.40" y2="406.00" stroke="#231f20" stroke-width="0.7"/>
<text x="319.60" y="472.00" font-size="6.1" text-anchor="end" font-style="italic" fill="#333" transform="rotate(-90 319.60 472.00)">S100A11</text>
<line x1="317.50" y1="469.00" x2="317.50" y2="471.00" stroke="#231f20" stroke-width="0.7"/>
<text x="242.30" y="414.10" font-size="6.1" text-anchor="end" font-style="italic" fill="#333">CLEC4E</text>
<line x1="243.80" y1="412.00" x2="247.40" y2="412.00" stroke="#231f20" stroke-width="0.7"/>
<text x="325.60" y="472.00" font-size="6.1" text-anchor="end" font-style="italic" fill="#333" transform="rotate(-90 325.60 472.00)">CLEC4E</text>
<line x1="323.50" y1="469.00" x2="323.50" y2="471.00" stroke="#231f20" stroke-width="0.7"/>
<text x="242.30" y="420.10" font-size="6.1" text-anchor="end" font-style="italic" fill="#333">SLC11A1</text>
<line x1="243.80" y1="418.00" x2="247.40" y2="418.00" stroke="#231f20" stroke-width="0.7"/>
<text x="331.60" y="472.00" font-size="6.1" text-anchor="end" font-style="italic" fill="#333" transform="rotate(-90 331.60 472.00)">SLC11A1</text>
<line x1="329.50" y1="469.00" x2="329.50" y2="471.00" stroke="#231f20" stroke-width="0.7"/>
<text x="242.30" y="426.10" font-size="6.1" text-anchor="end" font-style="italic" fill="#333">TLR4</text>
<line x1="243.80" y1="424.00" x2="247.40" y2="424.00" stroke="#231f20" stroke-width="0.7"/>
<text x="337.60" y="472.00" font-size="6.1" text-anchor="end" font-style="italic" fill="#333" transform="rotate(-90 337.60 472.00)">TLR4</text>
<line x1="335.50" y1="469.00" x2="335.50" y2="471.00" stroke="#231f20" stroke-width="0.7"/>
<text x="242.30" y="432.10" font-size="6.1" text-anchor="end" font-style="italic" fill="#333">C5AR1</text>
<line x1="243.80" y1="430.00" x2="247.40" y2="430.00" stroke="#231f20" stroke-width="0.7"/>
<text x="343.60" y="472.00" font-size="6.1" text-anchor="end" font-style="italic" fill="#333" transform="rotate(-90 343.60 472.00)">C5AR1</text>
<line x1="341.50" y1="469.00" x2="341.50" y2="471.00" stroke="#231f20" stroke-width="0.7"/>
<text x="242.30" y="438.10" font-size="6.1" text-anchor="end" font-style="italic" fill="#333">RAC1</text>
<line x1="243.80" y1="436.00" x2="247.40" y2="436.00" stroke="#231f20" stroke-width="0.7"/>
<text x="349.60" y="472.00" font-size="6.1" text-anchor="end" font-style="italic" fill="#333" transform="rotate(-90 349.60 472.00)">RAC1</text>
<line x1="347.50" y1="469.00" x2="347.50" y2="471.00" stroke="#231f20" stroke-width="0.7"/>
<text x="242.30" y="444.10" font-size="6.1" text-anchor="end" font-style="italic" fill="#333">PTPRC</text>
<line x1="243.80" y1="442.00" x2="247.40" y2="442.00" stroke="#231f20" stroke-width="0.7"/>
<text x="355.60" y="472.00" font-size="6.1" text-anchor="end" font-style="italic" fill="#333" transform="rotate(-90 355.60 472.00)">PTPRC</text>
<line x1="353.50" y1="469.00" x2="353.50" y2="471.00" stroke="#231f20" stroke-width="0.7"/>
<text x="242.30" y="450.10" font-size="6.1" text-anchor="end" font-style="italic" fill="#333">SIRPA</text>
<line x1="243.80" y1="448.00" x2="247.40" y2="448.00" stroke="#231f20" stroke-width="0.7"/>
<text x="361.60" y="472.00" font-size="6.1" text-anchor="end" font-style="italic" fill="#333" transform="rotate(-90 361.60 472.00)">SIRPA</text>
<line x1="359.50" y1="469.00" x2="359.50" y2="471.00" stroke="#231f20" stroke-width="0.7"/>
<text x="242.30" y="456.10" font-size="6.1" text-anchor="end" font-style="italic" fill="#333">NCOA4</text>
<line x1="243.80" y1="454.00" x2="247.40" y2="454.00" stroke="#231f20" stroke-width="0.7"/>
<text x="367.60" y="472.00" font-size="6.1" text-anchor="end" font-style="italic" fill="#333" transform="rotate(-90 367.60 472.00)">NCOA4</text>
<line x1="365.50" y1="469.00" x2="365.50" y2="471.00" stroke="#231f20" stroke-width="0.7"/>
<text x="242.30" y="462.10" font-size="6.1" text-anchor="end" font-style="italic" fill="#333">MME</text>
<line x1="243.80" y1="460.00" x2="247.40" y2="460.00" stroke="#231f20" stroke-width="0.7"/>
<text x="373.60" y="472.00" font-size="6.1" text-anchor="end" font-style="italic" fill="#333" transform="rotate(-90 373.60 472.00)">MME</text>
<line x1="371.50" y1="469.00" x2="371.50" y2="471.00" stroke="#231f20" stroke-width="0.7"/>
<text x="242.30" y="468.10" font-size="6.1" text-anchor="end" font-style="italic" fill="#333">S100A4</text>
<line x1="243.80" y1="466.00" x2="247.40" y2="466.00" stroke="#231f20" stroke-width="0.7"/>
<text x="379.60" y="472.00" font-size="6.1" text-anchor="end" font-style="italic" fill="#333" transform="rotate(-90 379.60 472.00)">S100A4</text>
<line x1="377.50" y1="469.00" x2="377.50" y2="471.00" stroke="#231f20" stroke-width="0.7"/>
<line x1="247.60" y1="337.00" x2="247.60" y2="469.50" stroke="#231f20" stroke-width="1.05"/>
<line x1="247.10" y1="469.00" x2="381.00" y2="469.00" stroke="#231f20" stroke-width="1.05"/>
<path d="M251.50,340.00 Q323.30,349.42 383.00,390.40 M251.50,340.00 Q346.02,364.54 419.10,429.30 M257.50,346.00 Q325.58,353.14 383.00,390.40 M257.50,346.00 Q348.30,368.26 419.10,429.30 M263.50,352.00 Q327.86,356.86 383.00,390.40 M263.50,352.00 Q350.58,371.98 419.10,429.30 M269.50,358.00 Q330.14,360.58 383.00,390.40 M269.50,358.00 Q352.86,375.70 419.10,429.30 M275.50,364.00 Q332.42,364.30 383.00,390.40 M275.50,364.00 Q355.14,379.42 419.10,429.30 M281.50,370.00 Q334.70,368.02 383.00,390.40 M281.50,370.00 Q357.42,383.14 419.10,429.30 M287.50,376.00 Q336.98,371.74 383.00,390.40 M287.50,376.00 Q359.70,386.86 419.10,429.30 M293.50,382.00 Q339.26,375.46 383.00,390.40 M293.50,382.00 Q361.98,390.58 419.10,429.30 M299.50,388.00 Q341.54,379.18 383.00,390.40 M299.50,388.00 Q364.26,394.30 419.10,429.30 M305.50,394.00 Q343.82,382.90 383.00,390.40 M305.50,394.00 Q366.54,398.02 419.10,429.30 M311.50,400.00 Q346.10,386.62 383.00,390.40 M311.50,400.00 Q368.82,401.74 419.10,429.30 M317.50,406.00 Q348.38,390.34 383.00,390.40 M317.50,406.00 Q371.10,405.46 419.10,429.30 M323.50,412.00 Q350.66,394.06 383.00,390.40 M323.50,412.00 Q373.38,409.18 419.10,429.30 M329.50,418.00 Q352.94,397.78 383.00,390.40 M329.50,418.00 Q375.66,412.90 419.10,429.30 M335.50,424.00 Q355.22,401.50 383.00,390.40 M335.50,424.00 Q377.94,416.62 419.10,429.30 M341.50,430.00 Q357.50,405.22 383.00,390.40 M341.50,430.00 Q380.22,420.34 419.10,429.30 M347.50,436.00 Q359.78,408.94 383.00,390.40 M347.50,436.00 Q382.50,424.06 419.10,429.30 M353.50,442.00 Q362.06,412.66 383.00,390.40 M353.50,442.00 Q384.78,427.78 419.10,429.30 M359.50,448.00 Q364.34,416.38 383.00,390.40 M359.50,448.00 Q387.06,431.50 419.10,429.30 M365.50,454.00 Q366.62,420.10 383.00,390.40 M365.50,454.00 Q389.34,435.22 419.10,429.30 M371.50,460.00 Q368.90,423.82 383.00,390.40 M371.50,460.00 Q391.62,438.94 419.10,429.30 M377.50,466.00 Q371.18,427.54 383.00,390.40 M377.50,466.00 Q393.90,442.66 419.10,429.30" fill="none" stroke="#c8c8cc" stroke-width="0.35"/>
<path d="M263.50,352.00 Q346.71,379.76 419.10,429.30" fill="none" stroke="#5a5a9e" stroke-width="1.25"/>
<path d="M269.50,358.00 Q349.29,383.18 419.10,429.30" fill="none" stroke="#5a5a9e" stroke-width="1.25"/>
<path d="M251.50,340.00 Q323.30,349.42 383.00,390.40" fill="none" stroke="#9a9ab8" stroke-width="0.6"/>
<path d="M251.50,340.00 Q300.44,333.70 346.90,350.30" fill="none" stroke="#5a5a9e" stroke-width="1.35"/>
<path d="M257.50,346.00 Q302.70,337.76 346.90,350.30" fill="none" stroke="#5c9a2c" stroke-width="2.1"/>
<path d="M263.50,352.00 Q305.01,341.78 346.90,350.30" fill="none" stroke="#5c9a2c" stroke-width="2.1"/>
<path d="M269.50,358.00 Q307.36,345.75 346.90,350.30" fill="none" stroke="#5a5a9e" stroke-width="1.35"/>
<path d="M275.50,364.00 Q309.76,349.67 346.90,350.30" fill="none" stroke="#5a5a9e" stroke-width="1.35"/>
<path d="M281.50,370.00 Q312.21,353.55 346.90,350.30" fill="none" stroke="#5c9a2c" stroke-width="2.1"/>
<path d="M287.50,376.00 Q314.70,357.38 346.90,350.30" fill="none" stroke="#5a5a9e" stroke-width="1.35"/>
<path d="M293.50,382.00 Q317.24,361.17 346.90,350.30" fill="none" stroke="#5a5a9e" stroke-width="1.35"/>
<path d="M299.50,388.00 Q319.82,364.91 346.90,350.30" fill="none" stroke="#5c9a2c" stroke-width="2.1"/>
<path d="M305.50,394.00 Q322.45,368.60 346.90,350.30" fill="none" stroke="#5a5a9e" stroke-width="1.35"/>
<path d="M311.50,400.00 Q325.13,372.25 346.90,350.30" fill="none" stroke="#5c9a2c" stroke-width="2.1"/>
<path d="M317.50,406.00 Q327.85,375.85 346.90,350.30" fill="none" stroke="#5c9a2c" stroke-width="2.1"/>
<path d="M323.50,412.00 Q330.62,379.41 346.90,350.30" fill="none" stroke="#5a5a9e" stroke-width="1.35"/>
<path d="M329.50,418.00 Q333.43,382.92 346.90,350.30" fill="none" stroke="#5c9a2c" stroke-width="2.1"/>
<path d="M335.50,424.00 Q336.29,386.39 346.90,350.30" fill="none" stroke="#5a5a9e" stroke-width="1.35"/>
<path d="M341.50,430.00 Q339.19,389.81 346.90,350.30" fill="none" stroke="#5c9a2c" stroke-width="2.1"/>
<path d="M347.50,436.00 Q342.14,393.19 346.90,350.30" fill="none" stroke="#5c9a2c" stroke-width="2.1"/>
<path d="M353.50,442.00 Q345.13,396.51 346.90,350.30" fill="none" stroke="#5a5a9e" stroke-width="1.35"/>
<path d="M359.50,448.00 Q348.18,399.80 346.90,350.30" fill="none" stroke="#5c9a2c" stroke-width="2.1"/>
<path d="M365.50,454.00 Q351.26,403.04 346.90,350.30" fill="none" stroke="#5a5a9e" stroke-width="1.35"/>
<path d="M371.50,460.00 Q354.39,406.23 346.90,350.30" fill="none" stroke="#5c9a2c" stroke-width="2.1"/>
<path d="M377.50,466.00 Q357.57,409.37 346.90,350.30" fill="none" stroke="#5c9a2c" stroke-width="2.1"/>
<path d="M371.50,460.00 Q366.81,423.47 383.00,390.40" fill="none" stroke="#5a5a9e" stroke-width="1.3"/>
<path d="M365.50,454.00 Q389.09,434.68 419.10,429.30" fill="none" stroke="#5c9a2c" stroke-width="2.0"/>
<path d="M371.50,460.00 Q391.31,438.46 419.10,429.30" fill="none" stroke="#5c9a2c" stroke-width="2.0"/>
<path d="M377.50,466.00 Q393.53,442.24 419.10,429.30" fill="none" stroke="#5c9a2c" stroke-width="2.0"/>
<circle cx="251.50" cy="340.00" r="1.8" fill="#fff" stroke="#2a2a2a" stroke-width="0.85"/>
<circle cx="257.50" cy="346.00" r="1.8" fill="#fff" stroke="#2a2a2a" stroke-width="0.85"/>
<circle cx="263.50" cy="352.00" r="1.8" fill="#fff" stroke="#2a2a2a" stroke-width="0.85"/>
<circle cx="269.50" cy="358.00" r="1.8" fill="#fff" stroke="#2a2a2a" stroke-width="0.85"/>
<circle cx="275.50" cy="364.00" r="1.8" fill="#fff" stroke="#2a2a2a" stroke-width="0.85"/>
<circle cx="281.50" cy="370.00" r="1.8" fill="#fff" stroke="#2a2a2a" stroke-width="0.85"/>
<circle cx="287.50" cy="376.00" r="1.8" fill="#fff" stroke="#2a2a2a" stroke-width="0.85"/>
<circle cx="293.50" cy="382.00" r="1.8" fill="#fff" stroke="#2a2a2a" stroke-width="0.85"/>
<circle cx="299.50" cy="388.00" r="1.8" fill="#fff" stroke="#2a2a2a" stroke-width="0.85"/>
<circle cx="305.50" cy="394.00" r="1.8" fill="#fff" stroke="#2a2a2a" stroke-width="0.85"/>
<circle cx="311.50" cy="400.00" r="1.8" fill="#fff" stroke="#2a2a2a" stroke-width="0.85"/>
<circle cx="317.50" cy="406.00" r="1.8" fill="#fff" stroke="#2a2a2a" stroke-width="0.85"/>
<circle cx="323.50" cy="412.00" r="1.8" fill="#fff" stroke="#2a2a2a" stroke-width="0.85"/>
<circle cx="329.50" cy="418.00" r="1.8" fill="#fff" stroke="#2a2a2a" stroke-width="0.85"/>
<circle cx="335.50" cy="424.00" r="1.8" fill="#fff" stroke="#2a2a2a" stroke-width="0.85"/>
<circle cx="341.50" cy="430.00" r="1.8" fill="#fff" stroke="#2a2a2a" stroke-width="0.85"/>
<circle cx="347.50" cy="436.00" r="1.8" fill="#fff" stroke="#2a2a2a" stroke-width="0.85"/>
<circle cx="353.50" cy="442.00" r="1.8" fill="#fff" stroke="#2a2a2a" stroke-width="0.85"/>
<circle cx="359.50" cy="448.00" r="1.8" fill="#fff" stroke="#2a2a2a" stroke-width="0.85"/>
<circle cx="365.50" cy="454.00" r="1.8" fill="#fff" stroke="#2a2a2a" stroke-width="0.85"/>
<circle cx="371.50" cy="460.00" r="1.8" fill="#fff" stroke="#2a2a2a" stroke-width="0.85"/>
<circle cx="377.50" cy="466.00" r="1.8" fill="#fff" stroke="#2a2a2a" stroke-width="0.85"/>
<circle cx="346.90" cy="350.30" r="2" fill="#fff" stroke="#2a2a2a" stroke-width="1"/>
<text x="351.10" y="352.50" font-size="6.4" fill="#333">JAK1/2</text>
<circle cx="383.00" cy="390.40" r="2" fill="#fff" stroke="#2a2a2a" stroke-width="1"/>
<text x="387.20" y="392.60" font-size="6.4" fill="#333">JAK1/3</text>
<circle cx="419.10" cy="429.30" r="2" fill="#fff" stroke="#2a2a2a" stroke-width="1"/>
<text x="423.30" y="431.50" font-size="6.4" fill="#333">JAK1/2/3/TYK2</text>
<text x="415.00" y="342.00" font-size="6.2" fill="#333" textLength="30.00" lengthAdjust="spacingAndGlyphs">Pearson's r</text>
<defs><linearGradient id="gp" x1="0" y1="0" x2="0" y2="1"><stop offset="0" stop-color="#6a0a1a"/><stop offset="0.25" stop-color="#d0805a"/><stop offset="0.5" stop-color="#f8f8f8"/><stop offset="0.75" stop-color="#78a8d8"/><stop offset="1" stop-color="#1a3a80"/></linearGradient></defs>
<rect x="415.00" y="343.20" width="8.00" height="39.60" fill="url(#gp)"/>
<text x="425.20" y="347.60" font-size="6.3" fill="#333">1.0</text>
<text x="425.20" y="357.80" font-size="6.3" fill="#333">0.5</text>
<text x="425.20" y="367.60" font-size="6.3" fill="#333">0</text>
<text x="425.20" y="377.60" font-size="6.3" fill="#333">−0.5</text>
<text x="425.20" y="388.00" font-size="6.3" fill="#333">−1.0</text>
<text x="449.60" y="342.00" font-size="6.2" fill="#333">Mantel's <tspan font-style="italic">P</tspan></text>
<line x1="449.60" y1="349.30" x2="456.50" y2="349.30" stroke="#555" stroke-width="1.0"/>
<text x="459.50" y="351.50" font-size="6.3" fill="#333">&lt; 0.01</text>
<line x1="449.60" y1="357.00" x2="456.50" y2="357.00" stroke="#777" stroke-width="1.0"/>
<text x="459.50" y="359.20" font-size="6.3" fill="#333">0.01 – 0.05</text>
<line x1="449.60" y1="365.00" x2="456.50" y2="365.00" stroke="#ddd" stroke-width="1.0"/>
<text x="459.50" y="367.20" font-size="6.3" fill="#333">≥ 0.05</text>
<text x="449.60" y="384.50" font-size="6.2" fill="#333">Mantel's r</text>
<line x1="449.60" y1="391.50" x2="456.50" y2="391.50" stroke="#444" stroke-width="0.6"/>
<text x="459.50" y="393.70" font-size="6.3" fill="#333">&lt; 0.2</text>
<line x1="449.60" y1="399.60" x2="456.50" y2="399.60" stroke="#444" stroke-width="1.4"/>
<text x="459.50" y="401.80" font-size="6.3" fill="#333">0.2–0.4</text>
<line x1="449.60" y1="407.70" x2="456.50" y2="407.70" stroke="#444" stroke-width="2.2"/>
<text x="459.50" y="409.90" font-size="6.3" fill="#333">≥ 0.4</text>
<text x="10.60" y="476.80" font-size="10.5" font-weight="bold" fill="#111">F</text>
<rect x="51.80" y="483.60" width="52.60" height="5.30" fill="#bcd49e"/>
<text x="77.80" y="488.60" font-size="6.6" text-anchor="middle" fill="#333" textLength="26.50" lengthAdjust="spacingAndGlyphs">non-MAS</text>
<rect x="105.60" y="483.60" width="61.00" height="5.30" fill="#e4ea9a"/>
<text x="136.00" y="488.60" font-size="6.6" text-anchor="middle" fill="#333" textLength="13.50" lengthAdjust="spacingAndGlyphs">MAS</text>
<text x="45.80" y="497.10" font-size="6.2" text-anchor="end" font-style="italic" fill="#333">JAK1</text>
<line x1="48.30" y1="495.00" x2="51.40" y2="495.00" stroke="#231f20" stroke-width="0.8"/>
<text x="45.80" y="504.60" font-size="6.2" text-anchor="end" font-style="italic" fill="#333">JAK2</text>
<line x1="48.30" y1="502.50" x2="51.40" y2="502.50" stroke="#231f20" stroke-width="0.8"/>
<text x="45.80" y="512.10" font-size="6.2" text-anchor="end" font-style="italic" fill="#333">JAK3</text>
<line x1="48.30" y1="510.00" x2="51.40" y2="510.00" stroke="#231f20" stroke-width="0.8"/>
<text x="45.80" y="519.60" font-size="6.2" text-anchor="end" font-style="italic" fill="#333">TYK2</text>
<line x1="48.30" y1="517.50" x2="51.40" y2="517.50" stroke="#231f20" stroke-width="0.8"/>
<text x="45.80" y="527.10" font-size="6.2" text-anchor="end" font-style="italic" fill="#333">STAT1</text>
<line x1="48.30" y1="525.00" x2="51.40" y2="525.00" stroke="#231f20" stroke-width="0.8"/>
<text x="45.80" y="534.60" font-size="6.2" text-anchor="end" font-style="italic" fill="#333">STAT2</text>
<line x1="48.30" y1="532.50" x2="51.40" y2="532.50" stroke="#231f20" stroke-width="0.8"/>
<text x="45.80" y="542.10" font-size="6.2" text-anchor="end" font-style="italic" fill="#333">STAT3</text>
<line x1="48.30" y1="540.00" x2="51.40" y2="540.00" stroke="#231f20" stroke-width="0.8"/>
<text x="45.80" y="549.60" font-size="6.2" text-anchor="end" font-style="italic" fill="#333">STAT4</text>
<line x1="48.30" y1="547.50" x2="51.40" y2="547.50" stroke="#231f20" stroke-width="0.8"/>
<text x="45.80" y="557.10" font-size="6.2" text-anchor="end" font-style="italic" fill="#333">STAT5A</text>
<line x1="48.30" y1="555.00" x2="51.40" y2="555.00" stroke="#231f20" stroke-width="0.8"/>
<text x="45.80" y="564.60" font-size="6.2" text-anchor="end" font-style="italic" fill="#333">STAT5B</text>
<line x1="48.30" y1="562.50" x2="51.40" y2="562.50" stroke="#231f20" stroke-width="0.8"/>
<text x="45.80" y="572.10" font-size="6.2" text-anchor="end" font-style="italic" fill="#333">STAT6</text>
<line x1="48.30" y1="570.00" x2="51.40" y2="570.00" stroke="#231f20" stroke-width="0.8"/>
<text x="45.80" y="579.60" font-size="6.2" text-anchor="end" font-style="italic" fill="#333">MAPK1</text>
<line x1="48.30" y1="577.50" x2="51.40" y2="577.50" stroke="#231f20" stroke-width="0.8"/>
<text x="45.80" y="587.10" font-size="6.2" text-anchor="end" font-style="italic" fill="#333">MAPK3</text>
<line x1="48.30" y1="585.00" x2="51.40" y2="585.00" stroke="#231f20" stroke-width="0.8"/>
<text x="45.80" y="594.60" font-size="6.2" text-anchor="end" font-style="italic" fill="#333">MAPK6</text>
<line x1="48.30" y1="592.50" x2="51.40" y2="592.50" stroke="#231f20" stroke-width="0.8"/>
<text x="45.80" y="602.10" font-size="6.2" text-anchor="end" font-style="italic" fill="#333">MAPK7</text>
<line x1="48.30" y1="600.00" x2="51.40" y2="600.00" stroke="#231f20" stroke-width="0.8"/>
<text x="45.80" y="609.60" font-size="6.2" text-anchor="end" font-style="italic" fill="#333">MAPK8</text>
<line x1="48.30" y1="607.50" x2="51.40" y2="607.50" stroke="#231f20" stroke-width="0.8"/>
<text x="45.80" y="617.10" font-size="6.2" text-anchor="end" font-style="italic" fill="#333">MAPK9</text>
<line x1="48.30" y1="615.00" x2="51.40" y2="615.00" stroke="#231f20" stroke-width="0.8"/>
<text x="45.80" y="624.60" font-size="6.2" text-anchor="end" font-style="italic" fill="#333">MAPK10</text>
<line x1="48.30" y1="622.50" x2="51.40" y2="622.50" stroke="#231f20" stroke-width="0.8"/>
<text x="45.80" y="632.10" font-size="6.2" text-anchor="end" font-style="italic" fill="#333">MAPK13</text>
<line x1="48.30" y1="630.00" x2="51.40" y2="630.00" stroke="#231f20" stroke-width="0.8"/>
<text x="45.80" y="639.60" font-size="6.2" text-anchor="end" font-style="italic" fill="#333">MAPK14</text>
<line x1="48.30" y1="637.50" x2="51.40" y2="637.50" stroke="#231f20" stroke-width="0.8"/>
<text x="45.80" y="647.10" font-size="6.2" text-anchor="end" font-style="italic" fill="#333">FLT1</text>
<line x1="48.30" y1="645.00" x2="51.40" y2="645.00" stroke="#231f20" stroke-width="0.8"/>
<text x="45.80" y="654.60" font-size="6.2" text-anchor="end" font-style="italic" fill="#333">FLT3</text>
<line x1="48.30" y1="652.50" x2="51.40" y2="652.50" stroke="#231f20" stroke-width="0.8"/>
<rect x="70.00" y="506.65" width="8.10" height="6.70" fill="#f4dde0"/>
<rect x="87.80" y="506.65" width="8.10" height="6.70" fill="#c83a3e"/>
<rect x="78.90" y="521.65" width="8.10" height="6.70" fill="#f4dde0"/>
<rect x="96.70" y="529.15" width="8.10" height="6.70" fill="#f4dde0"/>
<rect x="70.00" y="559.15" width="8.10" height="6.70" fill="#f0d6da"/>
<rect x="87.80" y="559.15" width="8.10" height="6.70" fill="#f0d6da"/>
<rect x="61.10" y="566.65" width="8.10" height="6.70" fill="#f6e6e8"/>
<rect x="70.00" y="566.65" width="8.10" height="6.70" fill="#ecd0d4"/>
<rect x="87.80" y="566.65" width="8.10" height="6.70" fill="#f0dadd"/>
<rect x="96.70" y="566.65" width="8.10" height="6.70" fill="#f6e6e8"/>
<rect x="61.10" y="574.15" width="8.10" height="6.70" fill="#ecd2d6"/>
<rect x="70.00" y="574.15" width="8.10" height="6.70" fill="#f2e6ea"/>
<rect x="78.90" y="574.15" width="8.10" height="6.70" fill="#ecd0d4"/>
<rect x="87.80" y="574.15" width="8.10" height="6.70" fill="#f6eaec"/>
<rect x="52.20" y="581.65" width="8.10" height="6.70" fill="#eef0f6"/>
<rect x="61.10" y="581.65" width="8.10" height="6.70" fill="#d07a82"/>
<rect x="70.00" y="581.65" width="8.10" height="6.70" fill="#ecd0d4"/>
<rect x="78.90" y="581.65" width="8.10" height="6.70" fill="#dca2aa"/>
<rect x="87.80" y="581.65" width="8.10" height="6.70" fill="#dca8b0"/>
<rect x="96.70" y="581.65" width="8.10" height="6.70" fill="#f0d8dc"/>
<rect x="52.20" y="589.15" width="8.10" height="6.70" fill="#d05050"/>
<rect x="61.10" y="589.15" width="8.10" height="6.70" fill="#d08890"/>
<rect x="70.00" y="589.15" width="8.10" height="6.70" fill="#f4eaec"/>
<rect x="78.90" y="589.15" width="8.10" height="6.70" fill="#e8c8cc"/>
<rect x="61.10" y="596.65" width="8.10" height="6.70" fill="#d48890"/>
<rect x="70.00" y="596.65" width="8.10" height="6.70" fill="#d89098"/>
<rect x="78.90" y="596.65" width="8.10" height="6.70" fill="#d89098"/>
<rect x="87.80" y="596.65" width="8.10" height="6.70" fill="#f8eef0"/>
<rect x="96.70" y="596.65" width="8.10" height="6.70" fill="#f4e6e8"/>
<rect x="52.20" y="611.65" width="8.10" height="6.70" fill="#f0dcdc"/>
<rect x="52.20" y="619.15" width="8.10" height="6.70" fill="#e6bcc2"/>
<rect x="61.10" y="619.15" width="8.10" height="6.70" fill="#e0b0b8"/>
<rect x="70.00" y="619.15" width="8.10" height="6.70" fill="#e0b0b8"/>
<rect x="78.90" y="619.15" width="8.10" height="6.70" fill="#e0b0b8"/>
<rect x="87.80" y="619.15" width="8.10" height="6.70" fill="#e0b0b8"/>
<rect x="96.70" y="619.15" width="8.10" height="6.70" fill="#e0b0b8"/>
<rect x="70.00" y="626.65" width="8.10" height="6.70" fill="#f6ecee"/>
<rect x="96.70" y="626.65" width="8.10" height="6.70" fill="#e8c4c8"/>
<rect x="70.00" y="641.65" width="8.10" height="6.70" fill="#dcaab0"/>
<rect x="78.90" y="641.65" width="8.10" height="6.70" fill="#f6e8ea"/>
<rect x="87.80" y="641.65" width="8.10" height="6.70" fill="#dcaab0"/>
<rect x="96.70" y="641.65" width="8.10" height="6.70" fill="#e4b8c0"/>
<rect x="115.00" y="491.65" width="8.00" height="6.70" fill="#d07078"/>
<rect x="141.40" y="491.65" width="8.00" height="6.70" fill="#d89098"/>
<rect x="150.20" y="491.65" width="8.00" height="6.70" fill="#f0e0e4"/>
<rect x="106.20" y="499.15" width="8.00" height="6.70" fill="#f6eef0"/>
<rect x="123.80" y="499.15" width="8.00" height="6.70" fill="#c85058"/>
<rect x="132.60" y="499.15" width="8.00" height="6.70" fill="#d8909c"/>
<rect x="141.40" y="499.15" width="8.00" height="6.70" fill="#f4e6e8"/>
<rect x="150.20" y="499.15" width="8.00" height="6.70" fill="#f2e4e6"/>
<rect x="159.00" y="499.15" width="8.00" height="6.70" fill="#e0b0b8"/>
<rect x="123.80" y="506.65" width="8.00" height="6.70" fill="#f0e0e4"/>
<rect x="159.00" y="506.65" width="8.00" height="6.70" fill="#d07880"/>
<rect x="115.00" y="514.15" width="8.00" height="6.70" fill="#b82020"/>
<rect x="141.40" y="514.15" width="8.00" height="6.70" fill="#dca0a8"/>
<rect x="150.20" y="514.15" width="8.00" height="6.70" fill="#ecd0d4"/>
<rect x="106.20" y="521.65" width="8.00" height="6.70" fill="#d8a0a8"/>
<rect x="123.80" y="521.65" width="8.00" height="6.70" fill="#ecc8d0"/>
<rect x="132.60" y="521.65" width="8.00" height="6.70" fill="#d88090"/>
<rect x="150.20" y="521.65" width="8.00" height="6.70" fill="#e8c0c8"/>
<rect x="159.00" y="521.65" width="8.00" height="6.70" fill="#f0dce0"/>
<rect x="106.20" y="529.15" width="8.00" height="6.70" fill="#c85058"/>
<rect x="123.80" y="529.15" width="8.00" height="6.70" fill="#e4c0c4"/>
<rect x="132.60" y="529.15" width="8.00" height="6.70" fill="#e4c0c4"/>
<rect x="159.00" y="529.15" width="8.00" height="6.70" fill="#dca8b0"/>
<rect x="106.20" y="536.65" width="8.00" height="6.70" fill="#ecd0d4"/>
<rect x="115.00" y="536.65" width="8.00" height="6.70" fill="#f4e6e8"/>
<rect x="123.80" y="536.65" width="8.00" height="6.70" fill="#d48890"/>
<rect x="132.60" y="536.65" width="8.00" height="6.70" fill="#e0b0b8"/>
<rect x="159.00" y="536.65" width="8.00" height="6.70" fill="#d8a0a8"/>
<rect x="150.20" y="544.15" width="8.00" height="6.70" fill="#c02020"/>
<rect x="106.20" y="551.65" width="8.00" height="6.70" fill="#e0b0b8"/>
<rect x="115.00" y="551.65" width="8.00" height="6.70" fill="#e4c0c4"/>
<rect x="123.80" y="551.65" width="8.00" height="6.70" fill="#e0b0b8"/>
<rect x="132.60" y="551.65" width="8.00" height="6.70" fill="#e0b0b8"/>
<rect x="159.00" y="551.65" width="8.00" height="6.70" fill="#d48890"/>
<rect x="115.00" y="559.15" width="8.00" height="6.70" fill="#c85050"/>
<rect x="123.80" y="559.15" width="8.00" height="6.70" fill="#e8c8cc"/>
<rect x="141.40" y="559.15" width="8.00" height="6.70" fill="#f4e6e8"/>
<rect x="159.00" y="559.15" width="8.00" height="6.70" fill="#dca8b0"/>
<rect x="115.00" y="566.65" width="8.00" height="6.70" fill="#c03030"/>
<rect x="141.40" y="566.65" width="8.00" height="6.70" fill="#f4e6e8"/>
<rect x="115.00" y="574.15" width="8.00" height="6.70" fill="#d07078"/>
<rect x="141.40" y="574.15" width="8.00" height="6.70" fill="#dca8b0"/>
<rect x="150.20" y="574.15" width="8.00" height="6.70" fill="#f4ecee"/>
<rect x="150.20" y="589.15" width="8.00" height="6.70" fill="#ecd4d8"/>
<rect x="150.20" y="596.65" width="8.00" height="6.70" fill="#e0b0b8"/>
<rect x="115.00" y="604.15" width="8.00" height="6.70" fill="#d89098"/>
<rect x="132.60" y="604.15" width="8.00" height="6.70" fill="#f0dcdc"/>
<rect x="141.40" y="604.15" width="8.00" height="6.70" fill="#ecd0d4"/>
<rect x="150.20" y="604.15" width="8.00" height="6.70" fill="#d06068"/>
<rect x="115.00" y="611.65" width="8.00" height="6.70" fill="#f2e4e6"/>
<rect x="141.40" y="611.65" width="8.00" height="6.70" fill="#f4e6e8"/>
<rect x="150.20" y="611.65" width="8.00" height="6.70" fill="#c02020"/>
<rect x="115.00" y="626.65" width="8.00" height="6.70" fill="#c83a3e"/>
<rect x="123.80" y="626.65" width="8.00" height="6.70" fill="#f0e4e8"/>
<rect x="141.40" y="626.65" width="8.00" height="6.70" fill="#e0b0b8"/>
<rect x="106.20" y="634.15" width="8.00" height="6.70" fill="#f4e4e6"/>
<rect x="123.80" y="634.15" width="8.00" height="6.70" fill="#d05a60"/>
<rect x="132.60" y="634.15" width="8.00" height="6.70" fill="#f6eaec"/>
<rect x="159.00" y="634.15" width="8.00" height="6.70" fill="#d06068"/>
<rect x="115.00" y="641.65" width="8.00" height="6.70" fill="#e4bcc4"/>
<rect x="150.20" y="641.65" width="8.00" height="6.70" fill="#e4a8b0"/>
<rect x="141.40" y="649.15" width="8.00" height="6.70" fill="#c02828"/>
<rect x="150.20" y="649.15" width="8.00" height="6.70" fill="#dc98a0"/>
<line x1="51.60" y1="490.80" x2="51.60" y2="656.30" stroke="#111" stroke-width="1.1"/>
<line x1="105.40" y1="490.80" x2="105.40" y2="656.30" stroke="#111" stroke-width="1.1"/>
<line x1="167.90" y1="490.80" x2="167.90" y2="656.30" stroke="#333" stroke-width="1.1"/>
<line x1="51.10" y1="656.00" x2="167.90" y2="656.00" stroke="#111" stroke-width="1.1"/>
<line x1="17.30" y1="491.40" x2="17.30" y2="573.50" stroke="#333" stroke-width="0.8"/>
<line x1="17.30" y1="575.00" x2="17.30" y2="639.00" stroke="#333" stroke-width="0.8"/>
<line x1="17.30" y1="642.50" x2="17.30" y2="655.50" stroke="#333" stroke-width="0.8"/>
<text x="15.90" y="530.10" font-size="6.9" text-anchor="middle" fill="#333" textLength="30.70" lengthAdjust="spacingAndGlyphs" transform="rotate(-90 15.90 530.10)">JAK-STAT</text>
<text x="15.90" y="606.90" font-size="6.9" text-anchor="middle" fill="#333" textLength="18.70" lengthAdjust="spacingAndGlyphs" transform="rotate(-90 15.90 606.90)">MAPK</text>
<text x="15.90" y="650.50" font-size="6.9" text-anchor="middle" fill="#333" textLength="16.00" lengthAdjust="spacingAndGlyphs" transform="rotate(-90 15.90 650.50)">VEGF</text>
<line x1="183.20" y1="491.00" x2="183.20" y2="656.00" stroke="#23237a" stroke-width="1.0"/>
<rect x="183.20" y="499.90" width="3.10" height="5.20" fill="#c0202a"/>
<rect x="183.20" y="522.40" width="3.80" height="5.20" fill="#7a3a70"/>
<rect x="183.20" y="529.90" width="4.80" height="5.20" fill="#c0202a"/>
<rect x="182.40" y="537.40" width="0.80" height="5.20" fill="#2a4a9a"/>
<rect x="183.20" y="544.90" width="3.30" height="5.20" fill="#c0202a"/>
<rect x="182.20" y="552.40" width="2.80" height="5.20" fill="#a03040"/>
<rect x="180.50" y="582.40" width="2.70" height="5.20" fill="#c0202a"/>
<rect x="179.20" y="589.90" width="4.00" height="5.20" fill="#c0202a"/>
<rect x="181.20" y="597.40" width="2.00" height="5.20" fill="#c0202a"/>
<rect x="183.20" y="604.90" width="0.80" height="5.20" fill="#2a2a7a"/>
<rect x="183.20" y="612.40" width="0.80" height="5.20" fill="#2a2a7a"/>
<rect x="170.20" y="619.90" width="13.00" height="5.20" fill="#c0202a"/>
<rect x="183.20" y="634.90" width="0.80" height="5.20" fill="#2a2a7a"/>
<rect x="182.20" y="642.40" width="1.00" height="5.20" fill="#2a2a7a"/>
<rect x="183.20" y="649.90" width="8.10" height="5.20" fill="#7a3a8a"/>
<line x1="168.50" y1="656.00" x2="192.50" y2="656.00" stroke="#222" stroke-width="0.9"/>
<line x1="172.50" y1="656.00" x2="172.50" y2="658.00" stroke="#222" stroke-width="0.6"/>
<line x1="177.50" y1="656.00" x2="177.50" y2="658.00" stroke="#222" stroke-width="0.6"/>
<line x1="182.80" y1="656.00" x2="182.80" y2="658.00" stroke="#222" stroke-width="0.6"/>
<line x1="187.80" y1="656.00" x2="187.80" y2="658.00" stroke="#222" stroke-width="0.6"/>
<text x="173.80" y="659.50" font-size="4.2" text-anchor="end" fill="#333" transform="rotate(-90 173.80 659.50)">−1</text>
<text x="178.80" y="659.50" font-size="4.2" text-anchor="end" fill="#333" transform="rotate(-90 178.80 659.50)">−.5</text>
<text x="184.10" y="659.50" font-size="4.2" text-anchor="end" fill="#333" transform="rotate(-90 184.10 659.50)">0</text>
<text x="189.10" y="659.50" font-size="4.2" text-anchor="end" fill="#333" transform="rotate(-90 189.10 659.50)">.5</text>
<text x="155.60" y="676.60" font-size="7" fill="#333" textLength="34.40" lengthAdjust="spacingAndGlyphs">Fold change</text>
<text x="155.60" y="686.60" font-size="7" fill="#333" textLength="47.00" lengthAdjust="spacingAndGlyphs">(MAS/non-MAS)</text>
<rect x="56.20" y="666.20" width="7.00" height="6.30" fill="#f6e2e4"/>
<rect x="63.36" y="666.20" width="7.00" height="6.30" fill="#eec6ca"/>
<rect x="70.52" y="666.20" width="7.00" height="6.30" fill="#e09ea4"/>
<rect x="77.68" y="666.20" width="7.00" height="6.30" fill="#d46a72"/>
<rect x="84.84" y="666.20" width="7.00" height="6.30" fill="#c8303a"/>
<text x="55.60" y="681.60" font-size="6.4" text-anchor="middle" fill="#333">0</text>
<text x="64.25" y="681.60" font-size="6.4" text-anchor="middle" fill="#333">1</text>
<text x="72.90" y="681.60" font-size="6.4" text-anchor="middle" fill="#333">2</text>
<text x="81.55" y="681.60" font-size="6.4" text-anchor="middle" fill="#333">3</text>
<text x="90.20" y="681.60" font-size="6.4" text-anchor="middle" fill="#333">4</text>
<text x="105.50" y="663.90" font-size="5.6" fill="#333" textLength="16.50" lengthAdjust="spacingAndGlyphs"><tspan font-style="italic">P</tspan>-value</text>
<defs><linearGradient id="gfp" x1="0" y1="0" x2="1" y2="0"><stop offset="0" stop-color="#c82838"/><stop offset="0.12" stop-color="#b04060"/><stop offset="0.35" stop-color="#6a58a8"/><stop offset="0.5" stop-color="#4a58b0"/><stop offset="1" stop-color="#4050b0"/></linearGradient></defs>
<rect x="105.50" y="666.00" width="42.00" height="6.00" fill="url(#gfp)"/>
<line x1="106.00" y1="672.00" x2="106.00" y2="674.50" stroke="#333" stroke-width="0.5"/>
<line x1="108.30" y1="672.00" x2="108.30" y2="674.50" stroke="#333" stroke-width="0.5"/>
<line x1="112.00" y1="672.00" x2="112.00" y2="674.50" stroke="#333" stroke-width="0.5"/>
<line x1="126.50" y1="672.00" x2="126.50" y2="674.50" stroke="#333" stroke-width="0.5"/>
<line x1="139.50" y1="672.00" x2="139.50" y2="674.50" stroke="#333" stroke-width="0.5"/>
<line x1="108.30" y1="674.50" x2="112.00" y2="676.50" stroke="#333" stroke-width="0.5"/>
<text x="105.30" y="685.30" font-size="5.6" fill="#333" textLength="39.00" lengthAdjust="spacingAndGlyphs">00.010.05 0.1</text>
<text x="215.40" y="519.70" font-size="10.5" font-weight="bold" fill="#111">H</text>
<line x1="288.50" y1="532.20" x2="288.50" y2="570.50" stroke="#231f20" stroke-width="1.05"/>
<line x1="288.00" y1="570.00" x2="422.30" y2="570.00" stroke="#231f20" stroke-width="1.05"/>
<line x1="286.50" y1="534.00" x2="288.50" y2="534.00" stroke="#231f20" stroke-width="0.8"/>
<text x="285.30" y="536.20" font-size="6.3" text-anchor="end">2.5</text>
<line x1="286.50" y1="548.20" x2="288.50" y2="548.20" stroke="#231f20" stroke-width="0.8"/>
<text x="285.30" y="550.40" font-size="6.3" text-anchor="end">2</text>
<line x1="286.50" y1="562.40" x2="288.50" y2="562.40" stroke="#231f20" stroke-width="0.8"/>
<text x="285.30" y="564.60" font-size="6.3" text-anchor="end">1.5</text>
<line x1="294.50" y1="570.00" x2="294.50" y2="572.00" stroke="#231f20" stroke-width="0.8"/>
<text x="294.50" y="582.20" font-size="6.3" text-anchor="middle">0</text>
<line x1="324.65" y1="570.00" x2="324.65" y2="572.00" stroke="#231f20" stroke-width="0.8"/>
<text x="324.65" y="582.20" font-size="6.3" text-anchor="middle">5</text>
<line x1="354.80" y1="570.00" x2="354.80" y2="572.00" stroke="#231f20" stroke-width="0.8"/>
<text x="354.80" y="582.20" font-size="6.3" text-anchor="middle">10</text>
<line x1="384.95" y1="570.00" x2="384.95" y2="572.00" stroke="#231f20" stroke-width="0.8"/>
<text x="384.95" y="582.20" font-size="6.3" text-anchor="middle">15</text>
<line x1="415.10" y1="570.00" x2="415.10" y2="572.00" stroke="#231f20" stroke-width="0.8"/>
<text x="415.10" y="582.20" font-size="6.3" text-anchor="middle">20</text>
<text x="355.00" y="592.80" font-size="7" text-anchor="middle" textLength="15.00" lengthAdjust="spacingAndGlyphs">Rank</text>
<text x="265.80" y="572.00" font-size="6.8" textLength="45.00" lengthAdjust="spacingAndGlyphs" transform="rotate(-90 265.80 572.00)">-log<tspan font-size="4.6" dy="1.2">10</tspan><tspan dy="-1.2">(</tspan><tspan font-style="italic">P</tspan>-value)</text>
<line x1="303.00" y1="539.00" x2="300.50" y2="535.20" stroke="#222" stroke-width="0.55"/>
<line x1="303.00" y1="541.50" x2="312.50" y2="542.50" stroke="#222" stroke-width="0.55"/>
<line x1="330.00" y1="540.50" x2="318.80" y2="544.50" stroke="#222" stroke-width="0.55"/>
<line x1="308.50" y1="551.50" x2="331.30" y2="549.50" stroke="#222" stroke-width="0.55"/>
<line x1="322.50" y1="555.00" x2="337.50" y2="553.20" stroke="#222" stroke-width="0.55"/>
<line x1="332.00" y1="558.00" x2="343.30" y2="555.00" stroke="#222" stroke-width="0.55"/>
<line x1="342.00" y1="562.00" x2="349.50" y2="556.30" stroke="#222" stroke-width="0.55"/>
<line x1="356.00" y1="550.80" x2="361.30" y2="557.50" stroke="#222" stroke-width="0.55"/>
<line x1="369.50" y1="562.50" x2="367.50" y2="557.80" stroke="#222" stroke-width="0.55"/>
<line x1="380.00" y1="548.80" x2="373.00" y2="565.00" stroke="#222" stroke-width="0.55"/>
<line x1="385.00" y1="558.80" x2="379.50" y2="565.00" stroke="#222" stroke-width="0.55"/>
<line x1="401.50" y1="563.00" x2="385.80" y2="566.00" stroke="#222" stroke-width="0.55"/>
<circle cx="300.50" cy="535.20" r="1.15" fill="#c8102e"/>
<circle cx="312.50" cy="542.50" r="1.15" fill="#c8102e"/>
<circle cx="318.80" cy="544.50" r="1.15" fill="#c8102e"/>
<circle cx="331.30" cy="549.50" r="1.15" fill="#c8102e"/>
<circle cx="337.50" cy="553.20" r="1.15" fill="#c8102e"/>
<circle cx="343.30" cy="555.00" r="1.15" fill="#c8102e"/>
<circle cx="349.50" cy="556.30" r="1.15" fill="#c8102e"/>
<circle cx="361.30" cy="557.50" r="1.15" fill="#c8102e"/>
<circle cx="367.50" cy="557.80" r="1.15" fill="#c8102e"/>
<circle cx="373.00" cy="565.00" r="1.15" fill="#c8102e"/>
<circle cx="379.50" cy="565.00" r="1.15" fill="#c8102e"/>
<circle cx="385.80" cy="566.00" r="1.15" fill="#c8102e"/>
<circle cx="392.00" cy="569.00" r="1.15" fill="#c8102e"/>
<rect x="298.80" y="537.50" width="8.20" height="5.2" rx="1.2" fill="#fff" stroke="#c02848" stroke-width="0.7"/>
<text x="302.90" y="541.20" font-size="3.7" text-anchor="middle" fill="#333" textLength="6.00" lengthAdjust="spacingAndGlyphs">IL18</text>
<rect x="293.00" y="543.60" width="9.50" height="5.2" rx="1.2" fill="#fff" stroke="#c02848" stroke-width="0.7"/>
<text x="297.75" y="547.30" font-size="3.7" text-anchor="middle" fill="#333" textLength="7.30" lengthAdjust="spacingAndGlyphs">IL1B</text>
<rect x="292.50" y="549.50" width="16.00" height="5.2" rx="1.2" fill="#fff" stroke="#c02848" stroke-width="0.7"/>
<text x="300.50" y="553.20" font-size="3.7" text-anchor="middle" fill="#333" textLength="13.80" lengthAdjust="spacingAndGlyphs">OSM</text>
<rect x="323.80" y="538.00" width="15.70" height="5.2" rx="1.2" fill="#fff" stroke="#c02848" stroke-width="0.7"/>
<text x="331.65" y="541.70" font-size="3.7" text-anchor="middle" fill="#333" textLength="13.50" lengthAdjust="spacingAndGlyphs">CXCL8</text>
<rect x="305.50" y="553.00" width="17.00" height="5.2" rx="1.2" fill="#fff" stroke="#c02848" stroke-width="0.7"/>
<text x="314.00" y="556.70" font-size="3.7" text-anchor="middle" fill="#333" textLength="14.80" lengthAdjust="spacingAndGlyphs">CXCL11</text>
<rect x="322.50" y="556.00" width="10.00" height="5.2" rx="1.2" fill="#fff" stroke="#c02848" stroke-width="0.7"/>
<text x="327.50" y="559.70" font-size="3.7" text-anchor="middle" fill="#333" textLength="7.80" lengthAdjust="spacingAndGlyphs">TNF</text>
<rect x="329.50" y="560.50" width="12.50" height="5.2" rx="1.2" fill="#fff" stroke="#c02848" stroke-width="0.7"/>
<text x="335.75" y="564.20" font-size="3.7" text-anchor="middle" fill="#333" textLength="10.30" lengthAdjust="spacingAndGlyphs">IFN-1</text>
<rect x="348.00" y="545.80" width="17.00" height="5.2" rx="1.2" fill="#fff" stroke="#c02848" stroke-width="0.7"/>
<text x="356.50" y="549.50" font-size="3.7" text-anchor="middle" fill="#333" textLength="14.80" lengthAdjust="spacingAndGlyphs">CASP-1</text>
<rect x="352.50" y="560.50" width="17.00" height="5.2" rx="1.2" fill="#fff" stroke="#c02848" stroke-width="0.7"/>
<text x="361.00" y="564.20" font-size="3.7" text-anchor="middle" fill="#333" textLength="14.80" lengthAdjust="spacingAndGlyphs">CXCL10</text>
<rect x="373.80" y="543.80" width="17.50" height="5.2" rx="1.2" fill="#fff" stroke="#c02848" stroke-width="0.7"/>
<text x="382.55" y="547.50" font-size="3.7" text-anchor="middle" fill="#333" textLength="15.30" lengthAdjust="spacingAndGlyphs">IL-18RA</text>
<rect x="377.50" y="553.80" width="15.00" height="5.2" rx="1.2" fill="#fff" stroke="#c02848" stroke-width="0.7"/>
<text x="385.00" y="557.50" font-size="3.7" text-anchor="middle" fill="#333" textLength="12.80" lengthAdjust="spacingAndGlyphs">CCCP1</text>
<rect x="401.50" y="560.30" width="16.20" height="5.2" rx="1.2" fill="#fff" stroke="#c02848" stroke-width="0.7"/>
<text x="409.60" y="564.00" font-size="3.7" text-anchor="middle" fill="#333" textLength="14.00" lengthAdjust="spacingAndGlyphs">MCP-2</text>
<line x1="242.40" y1="575.80" x2="242.40" y2="678.70" stroke="#231f20" stroke-width="1.05"/>
<line x1="241.90" y1="678.20" x2="463.80" y2="678.20" stroke="#231f20" stroke-width="1.05"/>
<line x1="240.30" y1="673.90" x2="242.30" y2="673.90" stroke="#231f20" stroke-width="0.8"/>
<text x="238.30" y="676.10" font-size="6.3" text-anchor="end">0</text>
<line x1="240.30" y1="655.20" x2="242.30" y2="655.20" stroke="#231f20" stroke-width="0.8"/>
<text x="238.30" y="657.40" font-size="6.3" text-anchor="end">0.5</text>
<line x1="240.30" y1="636.50" x2="242.30" y2="636.50" stroke="#231f20" stroke-width="0.8"/>
<text x="238.30" y="638.70" font-size="6.3" text-anchor="end">1.0</text>
<line x1="240.30" y1="617.80" x2="242.30" y2="617.80" stroke="#231f20" stroke-width="0.8"/>
<text x="238.30" y="620.00" font-size="6.3" text-anchor="end">1.5</text>
<line x1="240.30" y1="599.10" x2="242.30" y2="599.10" stroke="#231f20" stroke-width="0.8"/>
<text x="238.30" y="601.30" font-size="6.3" text-anchor="end">2.0</text>
<line x1="240.30" y1="580.40" x2="242.30" y2="580.40" stroke="#231f20" stroke-width="0.8"/>
<text x="238.30" y="582.60" font-size="6.3" text-anchor="end">2.5</text>
<line x1="251.50" y1="678.20" x2="251.50" y2="680.40" stroke="#231f20" stroke-width="0.8"/>
<text x="251.50" y="690.20" font-size="6.3" text-anchor="middle">0</text>
<line x1="308.10" y1="678.20" x2="308.10" y2="680.40" stroke="#231f20" stroke-width="0.8"/>
<text x="308.10" y="690.20" font-size="6.3" text-anchor="middle">25</text>
<line x1="364.70" y1="678.20" x2="364.70" y2="680.40" stroke="#231f20" stroke-width="0.8"/>
<text x="364.70" y="690.20" font-size="6.3" text-anchor="middle">50</text>
<line x1="421.30" y1="678.20" x2="421.30" y2="680.40" stroke="#231f20" stroke-width="0.8"/>
<text x="421.30" y="690.20" font-size="6.3" text-anchor="middle">75</text>
<text x="353.00" y="700.60" font-size="7" text-anchor="middle" textLength="15.00" lengthAdjust="spacingAndGlyphs">Rank</text>
<line x1="242.30" y1="624.70" x2="333.50" y2="624.70" stroke="#d4d4d4" stroke-width="0.6" stroke-dasharray="3,2"/>
<text x="223.40" y="649.30" font-size="6.8" textLength="45.70" lengthAdjust="spacingAndGlyphs" transform="rotate(-90 223.40 649.30)">-log<tspan font-size="4.6" dy="1.2">10</tspan><tspan dy="-1.2">(</tspan><tspan font-style="italic">P</tspan>-value)</text>
<circle cx="252.23" cy="579.69" r="1.05" fill="#c8102e"/>
<circle cx="254.54" cy="581.08" r="1.05" fill="#c8102e"/>
<circle cx="257.31" cy="589.62" r="1.05" fill="#c8102e"/>
<circle cx="259.16" cy="591.92" r="1.05" fill="#c8102e"/>
<circle cx="260.77" cy="593.54" r="1.05" fill="#c8102e"/>
<circle cx="263.77" cy="599.54" r="1.05" fill="#c8102e"/>
<circle cx="266.08" cy="604.62" r="1.05" fill="#c8102e"/>
<circle cx="268.39" cy="606.93" r="1.05" fill="#c8102e"/>
<circle cx="270.70" cy="608.77" r="1.05" fill="#c8102e"/>
<circle cx="273.00" cy="609.23" r="1.05" fill="#c8102e"/>
<circle cx="275.31" cy="609.70" r="1.05" fill="#c8102e"/>
<circle cx="277.62" cy="610.39" r="1.05" fill="#c8102e"/>
<circle cx="279.47" cy="620.31" r="1.05" fill="#c8102e"/>
<circle cx="280.85" cy="620.31" r="1.05" fill="#c8102e"/>
<circle cx="282.70" cy="621.23" r="1.05" fill="#c8102e"/>
<circle cx="284.54" cy="622.62" r="1.05" fill="#c8102e"/>
<circle cx="286.16" cy="625.39" r="1.05" fill="#c8102e"/>
<circle cx="288.47" cy="627.24" r="1.05" fill="#c8102e"/>
<circle cx="290.08" cy="627.70" r="1.05" fill="#c8102e"/>
<circle cx="291.93" cy="628.16" r="1.05" fill="#c8102e"/>
<circle cx="293.77" cy="628.85" r="1.05" fill="#c8102e"/>
<circle cx="295.39" cy="630.47" r="1.05" fill="#c8102e"/>
<circle cx="297.70" cy="631.85" r="1.05" fill="#1f3a78"/>
<circle cx="300.01" cy="632.77" r="1.05" fill="#1f3a78"/>
<circle cx="302.31" cy="634.16" r="1.05" fill="#1f3a78"/>
<circle cx="304.62" cy="635.77" r="1.05" fill="#1f3a78"/>
<circle cx="306.93" cy="636.93" r="1.05" fill="#1f3a78"/>
<circle cx="309.24" cy="638.08" r="1.05" fill="#1f3a78"/>
<circle cx="311.55" cy="638.77" r="1.05" fill="#c8102e"/>
<circle cx="313.85" cy="639.70" r="1.05" fill="#c8102e"/>
<circle cx="316.16" cy="639.93" r="1.05" fill="#1f3a78"/>
<circle cx="318.47" cy="640.39" r="1.05" fill="#1f3a78"/>
<circle cx="320.08" cy="640.85" r="1.05" fill="#1f3a78"/>
<circle cx="321.93" cy="642.70" r="1.05" fill="#c8102e"/>
<circle cx="324.24" cy="644.31" r="1.05" fill="#c8102e"/>
<circle cx="326.55" cy="645.70" r="1.05" fill="#c8102e"/>
<circle cx="328.85" cy="647.31" r="1.05" fill="#1f3a78"/>
<circle cx="331.16" cy="648.93" r="1.05" fill="#1f3a78"/>
<circle cx="333.47" cy="649.62" r="1.05" fill="#c8102e"/>
<circle cx="335.78" cy="650.08" r="1.05" fill="#c8102e"/>
<circle cx="338.09" cy="650.31" r="1.05" fill="#c8102e"/>
<circle cx="340.39" cy="650.54" r="1.05" fill="#1f3a78"/>
<circle cx="342.70" cy="651.24" r="1.05" fill="#1f3a78"/>
<circle cx="344.97" cy="652.57" r="1.05" fill="#c8102e"/>
<circle cx="347.23" cy="653.62" r="1.05" fill="#1f3a78"/>
<circle cx="349.49" cy="655.08" r="1.05" fill="#c8102e"/>
<circle cx="351.76" cy="656.42" r="1.05" fill="#1f3a78"/>
<circle cx="354.02" cy="657.17" r="1.05" fill="#c8102e"/>
<circle cx="356.29" cy="658.36" r="1.05" fill="#c8102e"/>
<circle cx="358.55" cy="659.87" r="1.05" fill="#1f3a78"/>
<circle cx="360.81" cy="660.28" r="1.05" fill="#c8102e"/>
<circle cx="363.08" cy="660.73" r="1.05" fill="#c8102e"/>
<circle cx="365.34" cy="661.64" r="1.05" fill="#1f3a78"/>
<circle cx="367.61" cy="662.51" r="1.05" fill="#1f3a78"/>
<circle cx="369.87" cy="662.78" r="1.05" fill="#c8102e"/>
<circle cx="372.13" cy="663.06" r="1.05" fill="#1f3a78"/>
<circle cx="374.40" cy="663.33" r="1.05" fill="#1f3a78"/>
<circle cx="376.66" cy="663.60" r="1.05" fill="#1f3a78"/>
<circle cx="378.93" cy="663.87" r="1.05" fill="#c8102e"/>
<circle cx="381.19" cy="664.08" r="1.05" fill="#1f3a78"/>
<circle cx="383.45" cy="664.23" r="1.05" fill="#1f3a78"/>
<circle cx="385.72" cy="664.72" r="1.05" fill="#1f3a78"/>
<circle cx="387.98" cy="665.27" r="1.05" fill="#1f3a78"/>
<circle cx="390.25" cy="665.79" r="1.05" fill="#c8102e"/>
<circle cx="392.51" cy="666.17" r="1.05" fill="#c8102e"/>
<circle cx="394.77" cy="666.55" r="1.05" fill="#c8102e"/>
<circle cx="397.04" cy="666.92" r="1.05" fill="#c8102e"/>
<circle cx="399.30" cy="667.30" r="1.05" fill="#c8102e"/>
<circle cx="401.57" cy="667.68" r="1.05" fill="#c8102e"/>
<circle cx="403.83" cy="668.05" r="1.05" fill="#1f3a78"/>
<circle cx="406.09" cy="668.40" r="1.05" fill="#c8102e"/>
<circle cx="408.36" cy="668.70" r="1.05" fill="#1f3a78"/>
<circle cx="410.62" cy="669.00" r="1.05" fill="#c8102e"/>
<circle cx="412.89" cy="669.29" r="1.05" fill="#c8102e"/>
<circle cx="415.15" cy="669.51" r="1.05" fill="#1f3a78"/>
<circle cx="417.41" cy="669.74" r="1.05" fill="#c8102e"/>
<circle cx="419.68" cy="669.97" r="1.05" fill="#c8102e"/>
<circle cx="421.94" cy="670.13" r="1.05" fill="#c8102e"/>
<circle cx="424.21" cy="670.28" r="1.05" fill="#1f3a78"/>
<circle cx="426.47" cy="670.43" r="1.05" fill="#c8102e"/>
<circle cx="428.73" cy="670.71" r="1.05" fill="#1f3a78"/>
<circle cx="431.00" cy="671.08" r="1.05" fill="#c8102e"/>
<circle cx="433.26" cy="671.46" r="1.05" fill="#1f3a78"/>
<circle cx="435.53" cy="671.80" r="1.05" fill="#1f3a78"/>
<circle cx="437.79" cy="672.03" r="1.05" fill="#c8102e"/>
<circle cx="440.05" cy="672.26" r="1.05" fill="#1f3a78"/>
<circle cx="442.32" cy="672.48" r="1.05" fill="#c8102e"/>
<circle cx="444.58" cy="672.71" r="1.05" fill="#1f3a78"/>
<circle cx="446.85" cy="672.93" r="1.05" fill="#c8102e"/>
<circle cx="449.11" cy="673.16" r="1.05" fill="#c8102e"/>
<circle cx="451.37" cy="673.34" r="1.05" fill="#c8102e"/>
<circle cx="453.64" cy="673.49" r="1.05" fill="#1f3a78"/>
<circle cx="253.80" cy="662.40" r="2.30" fill="#c8102e"/>
<text x="259.60" y="664.70" font-size="6.4" fill="#333">Up</text>
<circle cx="273.90" cy="662.40" r="2.30" fill="#1f3a78"/>
<text x="280.00" y="664.70" font-size="6.4" fill="#333" textLength="15.50" lengthAdjust="spacingAndGlyphs">Down</text>
<line x1="377.30" y1="602.70" x2="377.30" y2="640.80" stroke="#231f20" stroke-width="1.05"/>
<line x1="376.80" y1="640.30" x2="451.70" y2="640.30" stroke="#231f20" stroke-width="1.05"/>
<line x1="375.30" y1="604.50" x2="377.30" y2="604.50" stroke="#231f20" stroke-width="0.8"/>
<text x="374.20" y="606.70" font-size="6.3" text-anchor="end">2.5</text>
<line x1="375.30" y1="618.80" x2="377.30" y2="618.80" stroke="#231f20" stroke-width="0.8"/>
<text x="374.20" y="621.00" font-size="6.3" text-anchor="end">2</text>
<line x1="375.30" y1="633.10" x2="377.30" y2="633.10" stroke="#231f20" stroke-width="0.8"/>
<text x="374.20" y="635.30" font-size="6.3" text-anchor="end">1.5</text>
<line x1="383.50" y1="640.30" x2="383.50" y2="642.30" stroke="#231f20" stroke-width="0.8"/>
<text x="383.50" y="652.40" font-size="6.3" text-anchor="middle">0</text>
<line x1="413.85" y1="640.30" x2="413.85" y2="642.30" stroke="#231f20" stroke-width="0.8"/>
<text x="413.85" y="652.40" font-size="6.3" text-anchor="middle">5</text>
<line x1="444.20" y1="640.30" x2="444.20" y2="642.30" stroke="#231f20" stroke-width="0.8"/>
<text x="444.20" y="652.40" font-size="6.3" text-anchor="middle">10</text>
<text x="415.00" y="662.70" font-size="7" text-anchor="middle" textLength="15.00" lengthAdjust="spacingAndGlyphs">Rank</text>
<text x="358.00" y="645.40" font-size="6.8" textLength="45.00" lengthAdjust="spacingAndGlyphs" transform="rotate(-90 358.00 645.40)">-log<tspan font-size="4.6" dy="1.2">10</tspan><tspan dy="-1.2">(</tspan><tspan font-style="italic">P</tspan>-value)</text>
<line x1="395.30" y1="605.70" x2="395.30" y2="610.30" stroke="#222" stroke-width="0.55"/>
<line x1="413.00" y1="615.80" x2="418.90" y2="612.80" stroke="#222" stroke-width="0.55"/>
<line x1="438.50" y1="630.00" x2="444.20" y2="626.50" stroke="#222" stroke-width="0.55"/>
<circle cx="395.30" cy="605.70" r="1.10" fill="#1f3a78"/>
<circle cx="413.00" cy="615.80" r="1.10" fill="#1f3a78"/>
<circle cx="444.20" cy="626.50" r="1.10" fill="#1f3a78"/>
<rect x="391.20" y="610.30" width="8.00" height="5.1" rx="1" fill="#a8d4ec" stroke="#4a90c0" stroke-width="0.5"/>
<text x="395.20" y="614.10" font-size="3.9" text-anchor="middle" fill="#234" textLength="6.00" lengthAdjust="spacingAndGlyphs">IL6</text>
<rect x="418.90" y="610.30" width="10.30" height="5.1" rx="1" fill="#a8d4ec" stroke="#4a90c0" stroke-width="0.5"/>
<text x="424.05" y="614.10" font-size="3.9" text-anchor="middle" fill="#234" textLength="8.30" lengthAdjust="spacingAndGlyphs">IL1B</text>
<rect x="424.60" y="627.40" width="13.90" height="5.1" rx="1" fill="#a8d4ec" stroke="#4a90c0" stroke-width="0.5"/>
<text x="431.55" y="631.20" font-size="3.9" text-anchor="middle" fill="#234" textLength="11.90" lengthAdjust="spacingAndGlyphs">OSM</text>
<text x="428.60" y="454.00" font-size="10.5" font-weight="bold" fill="#111">I</text>
<text x="464.60" y="467.80" font-size="8.4" textLength="37.70" lengthAdjust="spacingAndGlyphs">Free IL-18</text>
<rect x="464.20" y="519.20" width="13.50" height="11.80" fill="#d8e8c6"/>
<rect x="489.70" y="500.80" width="12.60" height="30.20" fill="#eef0ac"/>
<line x1="457.50" y1="473.00" x2="457.50" y2="531.10" stroke="#231f20" stroke-width="1.05"/>
<line x1="455.00" y1="530.60" x2="508.50" y2="530.60" stroke="#231f20" stroke-width="1.05"/>
<line x1="455.70" y1="530.70" x2="457.70" y2="530.70" stroke="#231f20" stroke-width="0.8"/>
<text x="454.30" y="532.80" font-size="6" text-anchor="end" textLength="3.60" lengthAdjust="spacingAndGlyphs">0</text>
<line x1="455.70" y1="516.96" x2="457.70" y2="516.96" stroke="#231f20" stroke-width="0.8"/>
<text x="454.30" y="519.06" font-size="6" text-anchor="end" textLength="7.30" lengthAdjust="spacingAndGlyphs">25</text>
<line x1="455.70" y1="503.23" x2="457.70" y2="503.23" stroke="#231f20" stroke-width="0.8"/>
<text x="454.30" y="505.33" font-size="6" text-anchor="end" textLength="7.30" lengthAdjust="spacingAndGlyphs">50</text>
<line x1="455.70" y1="489.49" x2="457.70" y2="489.49" stroke="#231f20" stroke-width="0.8"/>
<text x="454.30" y="491.59" font-size="6" text-anchor="end" textLength="7.30" lengthAdjust="spacingAndGlyphs">75</text>
<line x1="455.70" y1="475.75" x2="457.70" y2="475.75" stroke="#231f20" stroke-width="0.8"/>
<text x="454.30" y="477.85" font-size="6" text-anchor="end" textLength="11.00" lengthAdjust="spacingAndGlyphs">100</text>
<text x="435.60" y="510.80" font-size="6.6" textLength="18.50" lengthAdjust="spacingAndGlyphs" transform="rotate(-90 435.60 510.80)">pg/mL</text>
<line x1="470.80" y1="508.50" x2="470.80" y2="527.40" stroke="#111" stroke-width="0.8"/>
<line x1="468.50" y1="508.50" x2="473.50" y2="508.50" stroke="#111" stroke-width="0.8"/>
<line x1="468.50" y1="527.40" x2="473.50" y2="527.40" stroke="#111" stroke-width="0.8"/>
<line x1="496.20" y1="487.40" x2="496.20" y2="514.20" stroke="#111" stroke-width="0.8"/>
<line x1="493.40" y1="487.40" x2="498.90" y2="487.40" stroke="#111" stroke-width="0.8"/>
<line x1="493.40" y1="514.20" x2="498.90" y2="514.20" stroke="#111" stroke-width="0.8"/>
<circle cx="470.80" cy="498.20" r="1.45" fill="#fff" stroke="#222" stroke-width="0.65"/>
<circle cx="465.80" cy="521.80" r="1.45" fill="#fff" stroke="#222" stroke-width="0.65"/>
<circle cx="468.50" cy="521.30" r="1.45" fill="#fff" stroke="#222" stroke-width="0.65"/>
<circle cx="471.20" cy="521.90" r="1.45" fill="#fff" stroke="#222" stroke-width="0.65"/>
<circle cx="473.90" cy="521.30" r="1.45" fill="#fff" stroke="#222" stroke-width="0.65"/>
<circle cx="476.50" cy="521.80" r="1.45" fill="#fff" stroke="#222" stroke-width="0.65"/>
<circle cx="483.10" cy="474.20" r="1.35" fill="#111"/>
<circle cx="496.20" cy="477.70" r="1.35" fill="#111"/>
<circle cx="501.10" cy="496.60" r="1.35" fill="#111"/>
<circle cx="496.20" cy="496.90" r="1.35" fill="#111"/>
<circle cx="496.20" cy="501.80" r="1.35" fill="#111"/>
<circle cx="496.20" cy="509.30" r="1.35" fill="#111"/>
<circle cx="496.20" cy="521.80" r="1.35" fill="#111"/>
<text x="470.80" y="543.00" font-size="6.3" text-anchor="middle" fill="#333" textLength="26.50" lengthAdjust="spacingAndGlyphs">non-MAS</text>
<text x="470.50" y="550.30" font-size="6.3" text-anchor="middle" fill="#333" textLength="18.00" lengthAdjust="spacingAndGlyphs">(n = 6)</text>
<text x="494.50" y="543.00" font-size="6.3" text-anchor="middle" fill="#333" textLength="11.50" lengthAdjust="spacingAndGlyphs">MAS</text>
<text x="495.80" y="550.30" font-size="6.3" text-anchor="middle" fill="#333" textLength="19.00" lengthAdjust="spacingAndGlyphs">(n = 7)</text>
</svg></body></html>
